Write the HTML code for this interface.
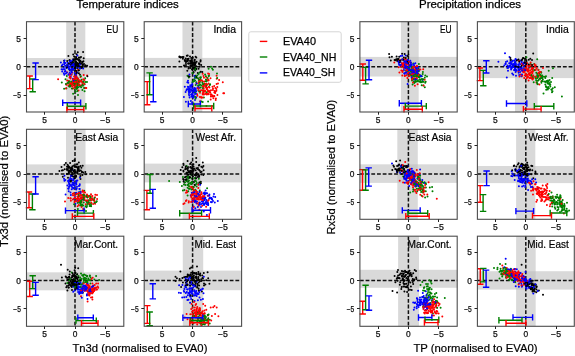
<!DOCTYPE html>
<html><head><meta charset="utf-8"><style>
html,body{margin:0;padding:0;background:#fff;}
body{width:575px;height:356px;overflow:hidden;}
svg{display:block;filter:blur(0.3px);font-family:"Liberation Sans",sans-serif;}
.tl text{font-size:8.4px;fill:#111;stroke:#111;stroke-width:0.25px;}
.pl{font-size:10.4px;fill:#000;stroke:#000;stroke-width:0.2px;}
.t{font-size:10.6px;fill:#000;stroke:#000;stroke-width:0.25px;}
.ax{font-size:11.5px;fill:#000;stroke:#000;stroke-width:0.2px;}
.lg{font-size:11.3px;fill:#000;stroke:#000;stroke-width:0.25px;}
</style></head><body>
<svg width="575" height="356" viewBox="0 0 575 356">
<rect width="575" height="356" fill="#fff"/>
<rect x="66.2" y="21.7" width="19.1" height="90.3" fill="#bebebe" fill-opacity="0.585"/>
<rect x="26.5" y="58" width="97.3" height="17.2" fill="#bebebe" fill-opacity="0.585"/>
<path d="M26.5 66.8H123.8M75 21.7V112" stroke="#111" stroke-width="1.5" stroke-dasharray="3.8 1.9" fill="none"/>
<path d="M77 86.3h0M77.6 80.9h0M77.9 84.2h0M76.8 88.9h0M73.1 93.8h0M78.2 83h0M74.2 84.6h0M75.8 80.1h0M69.2 86.5h0M75.9 84.1h0M77.5 82.4h0M77.8 78.2h0M73.2 79.4h0M68.7 81.4h0" stroke="#008000" stroke-width="2.0" stroke-linecap="round" fill="none"/>
<path d="M70.2 83h0M73 80.9h0M75.2 81.6h0M80.6 85.6h0M80.5 77h0M75.1 77.2h0M78 83h0M74.4 86.6h0M82.2 82.2h0M69 80.9h0M76.5 76.8h0M81.3 85.5h0M72.5 88.6h0M67.2 80.5h0M78.5 90.4h0" stroke="#ff0000" stroke-width="2.0" stroke-linecap="round" fill="none"/>
<path d="M69.2 68.5h0M80.2 68.5h0M71.6 71h0M60.9 62.5h0M64.7 69.2h0M68.6 67.8h0M68.6 74.6h0M69 63.9h0M72.2 64.3h0M62.9 69.5h0M69.7 72.5h0M61.6 69.2h0M72.6 64.7h0M62.8 64.5h0M75.6 64.2h0" stroke="#0000ff" stroke-width="2.0" stroke-linecap="round" fill="none"/>
<path d="M76.2 57h0M70.2 63.1h0M80 64.6h0M69.5 60.2h0M78 58.9h0M73 62.6h0M77.8 52.3h0M76.2 58.3h0M79 63.4h0M64.1 60.7h0M82.6 67.1h0M75.1 71.5h0M81.9 67.9h0M78.7 60.4h0M85.2 65.4h0M80.3 63.5h0" stroke="#000000" stroke-width="2.0" stroke-linecap="round" fill="none"/>
<path d="M75.3 81.1h0M76.8 88.1h0M61.8 82.6h0M73.5 84.5h0M81.6 79.7h0M77.8 79.8h0M84.6 88h0M76.9 83h0M66.8 76h0M81.2 87.3h0M76.3 76.2h0M84.6 91.3h0M84.6 84.3h0M87 82h0" stroke="#008000" stroke-width="2.0" stroke-linecap="round" fill="none"/>
<path d="M83.7 75.1h0M69.9 76.1h0M82.5 84.5h0M73.5 88.2h0M75.9 85.2h0M67 83.7h0M87.1 75.4h0M75.9 71.8h0M76.3 81.3h0M76 75.7h0M74.5 80.7h0M79.7 82h0M78.8 81.8h0M71.3 85.4h0" stroke="#ff0000" stroke-width="2.0" stroke-linecap="round" fill="none"/>
<path d="M65.3 71.1h0M67.6 62.8h0M69 69.3h0M74.7 73h0M69.6 63.8h0M64.1 62.4h0M71.5 63.5h0M83.1 68.6h0M68 67.2h0M67.3 64.7h0M70.3 64.1h0M76 62h0M64.5 60.4h0M63.9 73.2h0" stroke="#0000ff" stroke-width="2.0" stroke-linecap="round" fill="none"/>
<path d="M69.8 70.1h0M75.2 70.6h0M78.1 63.9h0M76.6 54.3h0M77.7 65.4h0M79.7 67.2h0M79.9 57.8h0M72.2 65.8h0M79.4 60.1h0M81.2 67.2h0M77.5 68.6h0M71.2 62.7h0M79.7 62.7h0M77.2 62.9h0M70.9 64.1h0M80.1 60.8h0" stroke="#000000" stroke-width="2.0" stroke-linecap="round" fill="none"/>
<path d="M74.2 80.6h0M68.9 83h0M76.7 85.5h0M77.7 85.3h0M77.5 87.5h0M73.5 84.1h0M75 83.4h0M84.1 87.9h0M75.2 81h0M70.7 84.7h0M70.2 86.6h0M76.6 83.8h0M82.8 85.1h0" stroke="#008000" stroke-width="2.0" stroke-linecap="round" fill="none"/>
<path d="M74.9 78.7h0M83.3 79.3h0M78.1 79h0M69.1 85.3h0M67 72.2h0M75.7 83.3h0M80.9 81.1h0M72.2 72.8h0M76.2 85h0M85.5 87.9h0M82.5 83h0M77.2 80.4h0M74.1 76.6h0M71.8 84h0" stroke="#ff0000" stroke-width="2.0" stroke-linecap="round" fill="none"/>
<path d="M64.3 64h0M70.7 76.8h0M71.5 69.1h0M69.8 61h0M71.1 63.8h0M74.4 68.6h0M65.9 73.5h0M78.4 66.3h0M70.3 66.8h0M74.7 66.9h0M70 69.8h0M65.1 65.8h0M79.7 67.9h0M74.6 64.7h0" stroke="#0000ff" stroke-width="2.0" stroke-linecap="round" fill="none"/>
<path d="M81.5 63.4h0M87.1 65.7h0M73.2 59.3h0M76.9 65.3h0M76.1 62.3h0M78.9 57.5h0M69.7 60.2h0M78.6 65.4h0M66.8 65.6h0M73.1 63.8h0M73.5 63.8h0M74.7 68.1h0M82.5 64.4h0M82.2 62.4h0M79.7 61h0M75.3 59.3h0" stroke="#000000" stroke-width="2.0" stroke-linecap="round" fill="none"/>
<path d="M77.4 90.9h0M65.5 79.3h0M67.7 82.9h0M69.6 85.3h0M75.9 88h0M82.4 90h0M75.5 91.7h0M76.9 87.9h0M78 94.9h0M77.2 80.4h0M64.1 88.7h0M76 80.7h0M72.8 83.6h0" stroke="#008000" stroke-width="2.0" stroke-linecap="round" fill="none"/>
<path d="M66.3 84.7h0M77.6 81.4h0M68.4 85.7h0M78.7 85.3h0M77.4 81.7h0M70.6 78.6h0M75.9 75.1h0M58.1 79.2h0M79 82.4h0M73.5 84.9h0M76 88.2h0M74.9 81.7h0M75.6 85.3h0M84.4 80.1h0" stroke="#ff0000" stroke-width="2.0" stroke-linecap="round" fill="none"/>
<path d="M76.8 65h0M75.2 64.8h0M73 78.8h0M68.7 66.1h0M76 74.8h0M71.6 74.5h0M72.8 60.1h0M71.3 61.2h0M66.4 68h0M77.9 65.6h0M75.2 65h0M64.9 71.4h0M71.7 69.3h0M63.6 67.7h0" stroke="#0000ff" stroke-width="2.0" stroke-linecap="round" fill="none"/>
<path d="M73.2 54.6h0M72.2 63.4h0M75.6 61.6h0M76 62.3h0M81 57.1h0M78.5 70.6h0M84 64h0M82.8 61.8h0M75.9 65.9h0M83.1 52.1h0M80 74.7h0M83.7 58.3h0M83.4 61.2h0M73 69.8h0M68.4 56h0M82.9 65.5h0" stroke="#000000" stroke-width="2.0" stroke-linecap="round" fill="none"/>
<path d="M74 82.3h0M65.9 84h0M71.1 81.4h0M85.2 78.2h0M76.6 87.9h0M69 81.5h0M74.4 83.7h0M74.9 89.6h0M72 82.3h0M78.6 81.2h0M66.4 88.3h0M83.6 82.6h0M73.6 85h0" stroke="#008000" stroke-width="2.0" stroke-linecap="round" fill="none"/>
<path d="M75.9 81.8h0M73.6 79.3h0M81.3 80.9h0M86.3 88h0M74.6 81.7h0M70.5 77.6h0M73.5 84.8h0M83.3 81.7h0M70.3 83.7h0M78.1 70h0M72.9 79.8h0M84.3 83.9h0M73.8 80.5h0M72.7 82.3h0" stroke="#ff0000" stroke-width="2.0" stroke-linecap="round" fill="none"/>
<path d="M75.9 77h0M66.3 67h0M73.4 69.8h0M73.7 80.7h0M75.9 67.2h0M61.9 65.6h0M77.2 72.5h0M68.6 74.4h0M65.4 63.1h0M72.4 68.4h0M70.3 61h0M66.5 65.9h0M71.3 69.7h0M77.4 55.5h0" stroke="#0000ff" stroke-width="2.0" stroke-linecap="round" fill="none"/>
<path d="M74.3 64h0M73.7 60.4h0M77.8 64.7h0M75.2 59.5h0M78.9 66.1h0M82 66.6h0M76.6 73.1h0M75.6 67.9h0M67.2 61.1h0M75.3 67h0M75.6 64.1h0M71.1 65.2h0M71.5 64.6h0M87.4 76.3h0M80.9 61.5h0M72.6 62.1h0" stroke="#000000" stroke-width="2.0" stroke-linecap="round" fill="none"/>
<path d="M80 86.6h0M69.3 86.2h0M83.4 81.4h0M82.2 85.5h0M85.7 82h0M80.9 76.2h0M79.1 84.5h0M77 87.6h0M78.2 87.2h0M82.9 85.8h0M71.9 88.4h0M76.7 81.5h0M74.7 83.7h0" stroke="#008000" stroke-width="2.0" stroke-linecap="round" fill="none"/>
<path d="M71.9 83.5h0M79.5 80.2h0M79 84.9h0M69.7 74.1h0M71.3 74.8h0M77.1 78.1h0M75.5 81.9h0M69.6 77.4h0M72.2 86.3h0M77.4 81.2h0M66 88.4h0M75.7 79h0M74.8 82h0M76 77.1h0" stroke="#ff0000" stroke-width="2.0" stroke-linecap="round" fill="none"/>
<path d="M71.8 72.2h0M71.9 68.5h0M62.2 71.4h0M71.6 65.6h0M73 68.8h0M71.4 71.4h0M77.1 67.6h0M64.3 74.8h0M70.3 73.9h0M66.8 72.4h0M73.7 64.1h0M73.4 65.8h0M79.9 64.4h0M73.1 64.2h0" stroke="#0000ff" stroke-width="2.0" stroke-linecap="round" fill="none"/>
<path d="M76.1 64h0M77 59.5h0M68.8 63.5h0M75.4 61.6h0M77.8 66.6h0M66.9 67.4h0M85.6 65.6h0M78.9 70.2h0M73.8 59.8h0M78.9 73.3h0M76.5 71.1h0M74.1 56.6h0M72 67h0M76.7 65.6h0M75.5 65.4h0" stroke="#000000" stroke-width="2.0" stroke-linecap="round" fill="none"/>
<path d="M29.7 76V88.6M26.5 76H32.9M26.5 88.6H32.9" stroke="#ff0000" stroke-width="1.4" fill="none"/>
<path d="M32.7 79V91.7M29.5 79H35.9M29.5 91.7H35.9" stroke="#008000" stroke-width="1.4" fill="none"/>
<path d="M35.6 63V79.6M32.4 63H38.8M32.4 79.6H38.8" stroke="#0000ff" stroke-width="1.4" fill="none"/>
<path d="M62.7 102.7H80.6M62.7 99.5V105.9M80.6 99.5V105.9" stroke="#0000ff" stroke-width="1.4" fill="none"/>
<path d="M67.3 106.3H85.9M67.3 103.1V109.5M85.9 103.1V109.5" stroke="#008000" stroke-width="1.4" fill="none"/>
<path d="M66.9 109.6H83.8M66.9 106.4V112.8M83.8 106.4V112.8" stroke="#ff0000" stroke-width="1.4" fill="none"/>
<rect x="26.5" y="21.7" width="97.3" height="90.3" fill="none" stroke="#4d4d4d" stroke-width="1.1"/>
<path d="M26.5 95.5h-2.9M105.5 112v2.7M26.5 66.5h-2.9M75.5 112v2.7M26.5 38.5h-2.9M44.5 112v2.7" stroke="#222" stroke-width="1" fill="none"/>
<g class="tl"><text x="20.9" y="41.6" text-anchor="end">5</text><text x="44.6" y="122.7" text-anchor="middle">5</text><text x="20.9" y="69.8" text-anchor="end">0</text><text x="75" y="122.7" text-anchor="middle">0</text><text x="20.9" y="98" text-anchor="end" textLength="7.6" lengthAdjust="spacingAndGlyphs">−5</text><text x="105.3" y="122.7" text-anchor="middle" textLength="10" lengthAdjust="spacingAndGlyphs">−5</text></g>
<text class="pl" x="106.6" y="33.2" textLength="11.6" lengthAdjust="spacingAndGlyphs">EU</text>
<rect x="182.5" y="21.7" width="19.8" height="90.3" fill="#bebebe" fill-opacity="0.585"/>
<rect x="144.2" y="57.9" width="97.4" height="18.8" fill="#bebebe" fill-opacity="0.585"/>
<path d="M144.2 66.8H241.6M192.6 21.7V112" stroke="#111" stroke-width="1.5" stroke-dasharray="3.8 1.9" fill="none"/>
<path d="M195.3 88.6h0M192.2 102.8h0M189.1 91.3h0M192.1 84.8h0M192.9 97.4h0M187.8 86.7h0M194.7 76.6h0M188.3 82.7h0M191.4 96.4h0M194.2 92.6h0M191.3 89.9h0M195 78h0M190.9 101.1h0" stroke="#0000ff" stroke-width="2.0" stroke-linecap="round" fill="none"/>
<path d="M206.4 83.7h0M208.7 76.1h0M195.5 68.1h0M199.7 72.5h0M200.5 78.9h0M202.7 101.9h0M200.1 77.6h0M210.1 84.2h0M200.2 91.6h0M203 88.4h0M203.6 91.5h0M196.3 82.2h0" stroke="#008000" stroke-width="2.0" stroke-linecap="round" fill="none"/>
<path d="M204.7 84.1h0M204 94.6h0M196.5 83.6h0M206.8 79.9h0M205 90.7h0M212.5 86.8h0M201 90.2h0M204.1 83.4h0M211.4 94.4h0M208 80h0M207.5 90.1h0M197.4 95.7h0M215.7 99.9h0M199.5 87.7h0M204 77.8h0M217.3 87h0M210.5 78.2h0M212.8 96.5h0M215.9 98.6h0" stroke="#ff0000" stroke-width="2.0" stroke-linecap="round" fill="none"/>
<path d="M191.3 65.4h0M193.3 72.2h0M195.8 69.1h0M195.6 75.7h0M194 64.4h0M194.2 65.7h0M198.6 68.7h0M195.3 62.4h0M199 63.3h0M200.5 61.6h0" stroke="#000000" stroke-width="2.0" stroke-linecap="round" fill="none"/>
<path d="M180.6 57.6h0M188 59.9h0M184.9 59.9h0M190.1 63.8h0M191.8 61.8h0M187 61.3h0M182.9 58.8h0" stroke="#000000" stroke-width="2.0" stroke-linecap="round" fill="none"/>
<path d="M188.6 89.4h0M191.1 94.4h0M189.9 89.7h0M196.1 97.3h0M189.1 92.2h0M188.6 90.9h0M188.9 93.9h0M194.4 88h0M189.6 88.9h0M190.2 91.9h0M197.5 87.6h0M194.7 76h0M194.7 90.3h0" stroke="#0000ff" stroke-width="2.0" stroke-linecap="round" fill="none"/>
<path d="M212.9 69.8h0M194.3 81.1h0M205.9 79.5h0M211 66.8h0M201.4 85.6h0M206.1 85.6h0M199.2 91.4h0M195.1 80.5h0M205.1 74.4h0M196.1 76.4h0M197 78.1h0M187.5 75.8h0" stroke="#008000" stroke-width="2.0" stroke-linecap="round" fill="none"/>
<path d="M206.6 89h0M214.1 95.9h0M206.9 94.4h0M201.8 80.2h0M210.9 96.2h0M201.4 97.7h0M214.2 86.1h0M208.1 93.7h0M214.7 91h0M199.9 80.3h0M203.8 88.8h0M203.4 92.8h0M207.2 87.7h0M208.7 94.3h0M198.8 79.1h0M200 81h0M205.1 91.5h0M212.9 89.9h0M216.4 88.9h0" stroke="#ff0000" stroke-width="2.0" stroke-linecap="round" fill="none"/>
<path d="M196.3 57.6h0M196.4 69h0M191.2 58h0M195.6 56.7h0M195.7 63h0M193.4 64.6h0M190.5 65.6h0M192.4 69.6h0M192.1 63.1h0M195 69.3h0" stroke="#000000" stroke-width="2.0" stroke-linecap="round" fill="none"/>
<path d="M185.6 60.9h0M190.1 60.7h0M183.5 57h0M187.5 59.1h0M184 65.6h0M192.6 64.4h0M188.4 63.4h0" stroke="#000000" stroke-width="2.0" stroke-linecap="round" fill="none"/>
<path d="M192.3 83.1h0M186.4 90.2h0M198.5 86.1h0M193.6 97.4h0M190.3 85.2h0M189.6 97.4h0M191.7 94.4h0M194.5 92h0M192.6 96.5h0M184.8 86.7h0M198.8 88h0M195 100h0M192.3 93.4h0" stroke="#0000ff" stroke-width="2.0" stroke-linecap="round" fill="none"/>
<path d="M198.4 90.3h0M207.7 78.1h0M203.9 97.4h0M192.6 82.1h0M194 79.4h0M199 80.1h0M203.1 87.6h0M195.7 85.1h0M195 96.7h0M200.9 77.2h0M188.8 77.4h0M212.1 68.4h0" stroke="#008000" stroke-width="2.0" stroke-linecap="round" fill="none"/>
<path d="M206.5 77.6h0M215.4 88.1h0M213 88.5h0M199.8 96.9h0M214.3 96.2h0M211 90.3h0M200.1 101.3h0M203.2 91h0M203.4 85.7h0M216.6 83.9h0M216.7 78.7h0M208.1 73.4h0M197.2 94.3h0M209.5 91.3h0M208.1 91.5h0M209 90.8h0M203.5 76.1h0M200 92.8h0" stroke="#ff0000" stroke-width="2.0" stroke-linecap="round" fill="none"/>
<path d="M184.6 65.8h0M189.5 76.5h0M194.5 62.2h0M194.8 59.8h0M192.7 57.8h0M193.9 63.8h0M193.8 67.4h0M200.8 71.8h0M188.6 68.5h0M193.9 67.8h0" stroke="#000000" stroke-width="2.0" stroke-linecap="round" fill="none"/>
<path d="M179.4 61.4h0M185.9 62.9h0M186.8 55.8h0M190.4 61.2h0M190.9 61.6h0M191.7 60.5h0M184.8 60.7h0" stroke="#000000" stroke-width="2.0" stroke-linecap="round" fill="none"/>
<path d="M195 93.9h0M188 80.8h0M189.2 95.4h0M187.3 82.2h0M193.3 89.3h0M194.2 104.5h0M189.3 92.5h0M196.7 83.5h0M192 87.9h0M185.6 91.9h0M193.9 92h0M196 93.8h0" stroke="#0000ff" stroke-width="2.0" stroke-linecap="round" fill="none"/>
<path d="M198 78.3h0M195.6 90.3h0M208.9 75.8h0M198.9 85.2h0M206.2 86.5h0M199 80.1h0M203 84.4h0M195.4 92.2h0M202.8 84h0M200.1 84.7h0M204.3 84.3h0M198.1 85.6h0" stroke="#008000" stroke-width="2.0" stroke-linecap="round" fill="none"/>
<path d="M206.1 83.8h0M205.9 94h0M205.9 84h0M208.4 79.8h0M215.2 93h0M212.6 95.4h0M204.3 81.5h0M206.4 106.1h0M210.1 92.5h0M214.5 92.5h0M208.6 83.5h0M202.4 90.3h0M223.3 93.3h0M202.4 81.2h0M219.1 79.9h0M198.7 83h0M205.3 93.6h0M202.7 73.7h0" stroke="#ff0000" stroke-width="2.0" stroke-linecap="round" fill="none"/>
<path d="M195.2 70.6h0M192 69.2h0M194.7 62.8h0M201.2 65.1h0M188.5 76.2h0M194.4 60.5h0M197.8 73.1h0M195.7 69.5h0M199.3 64.1h0M194.4 69.1h0" stroke="#000000" stroke-width="2.0" stroke-linecap="round" fill="none"/>
<path d="M188.6 58.8h0M199.5 64.4h0M180.9 57.2h0M182.5 57h0M186.3 61.5h0M188.9 67h0M185.6 60.7h0" stroke="#000000" stroke-width="2.0" stroke-linecap="round" fill="none"/>
<path d="M195 90.7h0M186.9 89.2h0M191.3 90.5h0M195.8 88.9h0M191.3 86.3h0M192.5 94.8h0M188.1 89h0M189.9 89.3h0M194.5 90h0M193.7 95.8h0M192.2 84.8h0M192.6 91.5h0" stroke="#0000ff" stroke-width="2.0" stroke-linecap="round" fill="none"/>
<path d="M198.6 74.1h0M206.7 81.3h0M206.7 92.3h0M202.4 82.5h0M195.6 98.6h0M205.8 81.2h0M199.6 81.8h0M194.9 67.8h0M208.1 101.5h0M217.2 77.9h0M193.2 81.3h0" stroke="#008000" stroke-width="2.0" stroke-linecap="round" fill="none"/>
<path d="M203.7 90.4h0M198.7 90.3h0M209.4 87.5h0M211 96.6h0M197.7 88.2h0M209.1 74.1h0M208.4 91.6h0M202.7 97.4h0M215.5 91.5h0M217.4 95.1h0M208.1 94.1h0M216.4 90.7h0M214.6 92.3h0M207.4 84.7h0M202.9 94.5h0M210.2 92.5h0M216.6 75.7h0M224.1 93.3h0" stroke="#ff0000" stroke-width="2.0" stroke-linecap="round" fill="none"/>
<path d="M187.3 70.8h0M190 56.5h0M187.7 55.5h0M199.7 66.7h0M192.6 72.9h0M196.2 77.1h0M195.9 66.1h0M191.5 63.1h0M196.6 61.7h0M193.5 72.3h0" stroke="#000000" stroke-width="2.0" stroke-linecap="round" fill="none"/>
<path d="M179.6 56.9h0M185.7 58.4h0M187.8 60.9h0M193.3 64.5h0M192.9 62.6h0M190.2 63.1h0" stroke="#000000" stroke-width="2.0" stroke-linecap="round" fill="none"/>
<path d="M183.9 97h0M193.7 90.7h0M193 96.3h0M188.4 87.1h0M193.4 89.7h0M185.9 101.7h0M189.4 74.6h0M192 96.3h0M192.8 96.3h0M190.1 87h0M196.2 91.3h0M189.6 89.1h0" stroke="#0000ff" stroke-width="2.0" stroke-linecap="round" fill="none"/>
<path d="M201.4 101.4h0M192.5 72.9h0M195.2 77.2h0M208.6 68.7h0M217 73.5h0M197.3 75.4h0M205.9 76.2h0M195.3 69.6h0M209.8 85h0M199.6 82.8h0M200.7 87.6h0" stroke="#008000" stroke-width="2.0" stroke-linecap="round" fill="none"/>
<path d="M210.9 94.4h0M203.8 86.8h0M210.7 99.6h0M204.8 84.9h0M208.9 86.7h0M202.9 86.2h0M202.7 93.8h0M206.7 88.2h0M213.4 98.2h0M206.4 87.8h0M206.7 93.7h0M208.6 80.5h0M201 97.1h0M199.1 81.3h0M205.7 87h0M203.1 92.8h0M222.8 82.2h0M218 83.5h0" stroke="#ff0000" stroke-width="2.0" stroke-linecap="round" fill="none"/>
<path d="M195.1 64.6h0M192.3 65.3h0M190.2 67.9h0M194.6 67.4h0M188.3 63.6h0M191.9 65.2h0M202.3 72h0M200.6 60.2h0M191.4 60.3h0M192.9 68.2h0" stroke="#000000" stroke-width="2.0" stroke-linecap="round" fill="none"/>
<path d="M187.3 59.4h0M191.6 60.4h0M179.5 56.4h0M192.6 62.5h0M179.4 56.8h0M186 64.9h0" stroke="#000000" stroke-width="2.0" stroke-linecap="round" fill="none"/>
<path d="M147.2 81.6V104.7M144 81.6H150.4M144 104.7H150.4" stroke="#ff0000" stroke-width="1.4" fill="none"/>
<path d="M149.6 72.9V94.8M146.4 72.9H152.8M146.4 94.8H152.8" stroke="#008000" stroke-width="1.4" fill="none"/>
<path d="M153.3 75.3V101.8M150.1 75.3H156.5M150.1 101.8H156.5" stroke="#0000ff" stroke-width="1.4" fill="none"/>
<path d="M188.3 104H200.3M188.3 100.8V107.2M200.3 100.8V107.2" stroke="#0000ff" stroke-width="1.4" fill="none"/>
<path d="M193.7 106H213.7M193.7 102.8V109.2M213.7 102.8V109.2" stroke="#008000" stroke-width="1.4" fill="none"/>
<path d="M195 108.5H211.8M195 105.3V111.7M211.8 105.3V111.7" stroke="#ff0000" stroke-width="1.4" fill="none"/>
<rect x="144.2" y="21.7" width="97.4" height="90.3" fill="none" stroke="#4d4d4d" stroke-width="1.1"/>
<path d="M144.2 95.5h-2.9M222.5 112v2.7M144.2 66.5h-2.9M192.5 112v2.7M144.2 38.5h-2.9M162.5 112v2.7" stroke="#222" stroke-width="1" fill="none"/>
<g class="tl"><text x="138.6" y="41.6" text-anchor="end">5</text><text x="162.2" y="122.7" text-anchor="middle">5</text><text x="138.6" y="69.8" text-anchor="end">0</text><text x="192.6" y="122.7" text-anchor="middle">0</text><text x="138.6" y="98" text-anchor="end" textLength="7.6" lengthAdjust="spacingAndGlyphs">−5</text><text x="222.9" y="122.7" text-anchor="middle" textLength="10" lengthAdjust="spacingAndGlyphs">−5</text></g>
<text class="pl" x="213.4" y="33.2" textLength="22.6" lengthAdjust="spacingAndGlyphs">India</text>
<rect x="66" y="129.3" width="19.5" height="90" fill="#bebebe" fill-opacity="0.585"/>
<rect x="26.5" y="164.4" width="97.3" height="19" fill="#bebebe" fill-opacity="0.585"/>
<path d="M26.5 174H123.8M75 129.3V219.3" stroke="#111" stroke-width="1.5" stroke-dasharray="3.8 1.9" fill="none"/>
<path d="M70.2 178h0M71.9 180.3h0M64.9 180.3h0M77.4 180.5h0M75 197h0M72.1 184.4h0M65.3 180h0M69.6 180.5h0M69.4 184.1h0M84.4 199.9h0M72.1 184.8h0M65.6 194.5h0M74.8 185.5h0" stroke="#0000ff" stroke-width="2.0" stroke-linecap="round" fill="none"/>
<path d="M89.6 206.1h0M94.4 203.1h0M87 201.5h0M80.2 191.5h0M79.6 196.3h0M81.8 205.9h0M91.1 206.3h0M87 195.6h0M93.2 199.7h0M86.7 202h0M82 199.6h0M80.4 200.9h0" stroke="#008000" stroke-width="2.0" stroke-linecap="round" fill="none"/>
<path d="M92.6 199.5h0M80.9 197.4h0M81.6 206.9h0M95 197.2h0M79.2 195.6h0M82.7 197.9h0M93.1 204h0M81.5 200.9h0M95.1 203.8h0M73 195.2h0M70.4 198.2h0M94.2 199.6h0M84.5 196h0M84.8 196.4h0M80.2 193.2h0" stroke="#ff0000" stroke-width="2.0" stroke-linecap="round" fill="none"/>
<path d="M77.8 170.5h0M75.8 166.8h0M71.3 174.5h0M77.7 171.1h0M72.4 168.9h0M71.1 176.1h0M75.7 166.8h0M78.9 167.1h0M70.9 170.2h0M72.7 161.1h0M71.9 168.3h0M66.9 169.1h0M68.5 170.9h0M75.9 175.8h0M72.4 174.6h0M77.7 167.9h0M72.5 166.3h0" stroke="#000000" stroke-width="2.0" stroke-linecap="round" fill="none"/>
<path d="M72.3 169.8h0M79.5 189.1h0M78 200.3h0M76.3 180.7h0M67.4 185.6h0M71 175.6h0M68.7 180.6h0M69.4 186.4h0M72.5 182.8h0M70.9 195.1h0M78.9 186.1h0M64.5 175.7h0M80.4 193.6h0" stroke="#0000ff" stroke-width="2.0" stroke-linecap="round" fill="none"/>
<path d="M81.2 200.3h0M79.5 202.6h0M91.2 204.1h0M90.6 197.8h0M88.9 200.7h0M81.7 199.4h0M82.7 198.2h0M88.4 200.2h0M80.1 205.5h0M90.4 198.7h0M96.2 201.9h0M84.2 190.8h0" stroke="#008000" stroke-width="2.0" stroke-linecap="round" fill="none"/>
<path d="M89.3 203.9h0M84.4 195.1h0M84.3 198.2h0M81.6 202.1h0M85.8 204.3h0M84.6 197.6h0M76.7 194h0M87.8 197.2h0M78.1 198.2h0M79.4 199.8h0M87.1 197h0M90.9 196.2h0M65 201.6h0M78.8 204.9h0M79.5 200.5h0" stroke="#ff0000" stroke-width="2.0" stroke-linecap="round" fill="none"/>
<path d="M59.4 171h0M73.6 176.8h0M77.6 170.3h0M86 174.2h0M64.7 169.3h0M71.8 169.6h0M74.7 172.9h0M72.8 176.3h0M77.6 171.9h0M78.8 169.2h0M69.4 170.7h0M72.2 168.6h0M77.2 173.6h0M75.9 175.9h0M66.8 174h0M78.8 162.5h0M80.5 179h0" stroke="#000000" stroke-width="2.0" stroke-linecap="round" fill="none"/>
<path d="M76.4 184.6h0M76.4 181.9h0M68.8 182.3h0M75.7 183.2h0M64 178.7h0M73.6 188.6h0M76.2 183.6h0M77.7 202.6h0M64.4 180.7h0M71.7 189.2h0M74.9 199.4h0M74.4 187.6h0M79.6 189h0" stroke="#0000ff" stroke-width="2.0" stroke-linecap="round" fill="none"/>
<path d="M78.6 194.8h0M92.3 198.8h0M77.8 202.8h0M84 194.8h0M77.9 209.1h0M94.9 202.4h0M86.4 201.1h0M82.3 195h0M87 205.9h0M94.1 200.5h0M90.1 196.6h0M88.5 203.4h0" stroke="#008000" stroke-width="2.0" stroke-linecap="round" fill="none"/>
<path d="M78.3 201.6h0M78.4 198.3h0M84.2 199.7h0M91 194.2h0M68.2 198.1h0M70.9 200.8h0M77.4 196.6h0M82.3 195.3h0M72.8 199.5h0M80.8 195.1h0M83.7 194.2h0M80.6 198.5h0M83.1 196.7h0M88.1 201.6h0M92.4 195.9h0" stroke="#ff0000" stroke-width="2.0" stroke-linecap="round" fill="none"/>
<path d="M68 168.9h0M79.3 171h0M70.2 171.1h0M72 174.5h0M73.8 171.5h0M75.3 176h0M69.9 171.6h0M71.2 171.9h0M85.3 172h0M71.6 169.8h0M80.5 166.1h0M74.5 161.1h0M68.5 167.3h0M74.7 176.7h0M75.9 172.3h0M77.8 169.9h0M70.1 163h0" stroke="#000000" stroke-width="2.0" stroke-linecap="round" fill="none"/>
<path d="M72.9 184.4h0M68.1 188.6h0M69.5 184.7h0M71.8 186.8h0M80 177.4h0M76.1 192.8h0M73.7 182.7h0M73.5 185h0M68.7 191.2h0M78.7 192.2h0M76.2 189.4h0M80.8 192.1h0" stroke="#0000ff" stroke-width="2.0" stroke-linecap="round" fill="none"/>
<path d="M90.4 198h0M81.7 205.5h0M89.9 203h0M78.9 195.9h0M81.2 202.1h0M86 210.9h0M80.7 203.5h0M79.6 202.6h0M85.6 206.3h0M90.4 200.6h0M87.2 204h0M83.3 195.1h0" stroke="#008000" stroke-width="2.0" stroke-linecap="round" fill="none"/>
<path d="M80.3 198.3h0M78 198h0M92.1 198.4h0M79.5 193.1h0M79 200.4h0M84.1 197.9h0M70.7 198.6h0M94.5 201h0M83.1 208.9h0M87.6 196.4h0M91.4 202.7h0M85 192.6h0M97.1 199h0M85.8 200.4h0M82 197.1h0" stroke="#ff0000" stroke-width="2.0" stroke-linecap="round" fill="none"/>
<path d="M82.7 165.7h0M74.3 170.5h0M64.5 164.8h0M76.3 166.9h0M67.6 174h0M61.5 167.1h0M83.2 172.5h0M68.2 167.1h0M82 172.3h0M72.7 172.9h0M82.4 174.9h0M76.7 164.4h0M68.9 173.1h0M80.8 170.5h0M61.9 170.5h0M78.4 166.7h0M80.4 176.1h0" stroke="#000000" stroke-width="2.0" stroke-linecap="round" fill="none"/>
<path d="M74.2 199h0M70.2 181.3h0M72.9 187.7h0M71.6 175.8h0M75.4 203.7h0M81.8 198.5h0M69.2 183.7h0M73.5 179h0M70.5 192.5h0M77 186.7h0M71 185.8h0M68.7 188.7h0" stroke="#0000ff" stroke-width="2.0" stroke-linecap="round" fill="none"/>
<path d="M96.8 201.3h0M86.2 196.1h0M90.6 198.6h0M83.7 202.6h0M86.5 207.2h0M87.3 197.4h0M75.4 199.1h0M80.7 201.3h0M89.7 204.2h0M84.3 209.9h0M94.4 197.9h0" stroke="#008000" stroke-width="2.0" stroke-linecap="round" fill="none"/>
<path d="M81.4 198.5h0M77.6 206.2h0M97 195.1h0M83 198.1h0M75.2 197.9h0M89 203.2h0M72.8 193.8h0M74.1 198.5h0M82.7 190.4h0M78.4 193.2h0M83.7 191.7h0M88.7 203.6h0M76.6 198.9h0M92.4 198.4h0M76.7 193.9h0" stroke="#ff0000" stroke-width="2.0" stroke-linecap="round" fill="none"/>
<path d="M68 177.8h0M70.7 180.2h0M78.5 168.7h0M74.4 170.2h0M67.1 169.9h0M68.3 165.9h0M70.4 170.7h0M71.1 181.1h0M77.3 164.3h0M67 166.7h0M71.5 174.6h0M70.4 169.1h0M62.8 176.7h0M81.9 171.8h0M77.6 167.5h0M70.6 181.4h0" stroke="#000000" stroke-width="2.0" stroke-linecap="round" fill="none"/>
<path d="M69 187h0M74.2 178.4h0M76.5 188.3h0M68 181h0M69.6 179.6h0M79.8 184.2h0M76.7 188.5h0M71.5 178.9h0M70 185.1h0M73.1 180.4h0M79.7 185.5h0M73.8 183.7h0" stroke="#0000ff" stroke-width="2.0" stroke-linecap="round" fill="none"/>
<path d="M82.3 204.5h0M83.6 197.7h0M80.8 205.1h0M74.1 204.3h0M83.2 205.4h0M89.1 195.8h0M83.5 199.8h0M90.8 205.5h0M88 202.7h0M84 195.4h0M88.5 202.3h0" stroke="#008000" stroke-width="2.0" stroke-linecap="round" fill="none"/>
<path d="M90 199h0M91.5 200.2h0M87 194.6h0M79.5 195.9h0M74.6 201.2h0M74.2 195.5h0M88.6 195.9h0M87.1 200.3h0M77.2 198.9h0M76.4 201h0M74.5 202.3h0M73.8 193.3h0M74.6 195.6h0M95.3 194.8h0M82.4 191.8h0" stroke="#ff0000" stroke-width="2.0" stroke-linecap="round" fill="none"/>
<path d="M74.7 178.3h0M74 165.6h0M76.1 176.8h0M62.9 170.2h0M81.4 167.7h0M69.2 167h0M68.8 172.3h0M71.8 168.6h0M73.3 170.7h0M75.6 171.7h0M65.9 163h0M67.6 164.7h0M71.3 167.4h0M74.5 166.7h0M74.5 160h0M69.4 167.7h0" stroke="#000000" stroke-width="2.0" stroke-linecap="round" fill="none"/>
<path d="M29 192V207.7M25.8 192H32.2M25.8 207.7H32.2" stroke="#ff0000" stroke-width="1.4" fill="none"/>
<path d="M32.4 194V209.8M29.2 194H35.6M29.2 209.8H35.6" stroke="#008000" stroke-width="1.4" fill="none"/>
<path d="M35.6 176.8V194M32.4 176.8H38.8M32.4 194H38.8" stroke="#0000ff" stroke-width="1.4" fill="none"/>
<path d="M65.5 210.6H84.1M65.5 207.4V213.8M84.1 207.4V213.8" stroke="#0000ff" stroke-width="1.4" fill="none"/>
<path d="M77.5 213.1H93.4M77.5 209.9V216.3M93.4 209.9V216.3" stroke="#008000" stroke-width="1.4" fill="none"/>
<path d="M72.3 216.4H93.8M72.3 213.2V219.6M93.8 213.2V219.6" stroke="#ff0000" stroke-width="1.4" fill="none"/>
<rect x="26.5" y="129.3" width="97.3" height="90" fill="none" stroke="#4d4d4d" stroke-width="1.1"/>
<path d="M26.5 202.5h-2.9M105.5 219.3v2.7M26.5 174.5h-2.9M75.5 219.3v2.7M26.5 145.5h-2.9M44.5 219.3v2.7" stroke="#222" stroke-width="1" fill="none"/>
<g class="tl"><text x="20.9" y="148.8" text-anchor="end">5</text><text x="44.6" y="230" text-anchor="middle">5</text><text x="20.9" y="177" text-anchor="end">0</text><text x="75" y="230" text-anchor="middle">0</text><text x="20.9" y="205.2" text-anchor="end" textLength="7.6" lengthAdjust="spacingAndGlyphs">−5</text><text x="105.3" y="230" text-anchor="middle" textLength="10" lengthAdjust="spacingAndGlyphs">−5</text></g>
<text class="pl" x="75.2" y="140.8" textLength="43" lengthAdjust="spacingAndGlyphs">East Asia</text>
<rect x="182.6" y="129.3" width="18" height="90" fill="#bebebe" fill-opacity="0.585"/>
<rect x="144.2" y="163.6" width="97.4" height="18.8" fill="#bebebe" fill-opacity="0.585"/>
<path d="M144.2 174H241.6M192.6 129.3V219.3" stroke="#111" stroke-width="1.5" stroke-dasharray="3.8 1.9" fill="none"/>
<path d="M191.7 178.6h0M189 180.7h0M194.7 184.9h0M185.4 185h0M188.9 183.3h0M195 185.2h0M192.4 186.7h0M195.4 189.7h0M191.3 187.3h0M190.5 183.1h0" stroke="#008000" stroke-width="2.0" stroke-linecap="round" fill="none"/>
<path d="M199.1 195.5h0M201.5 192.3h0M193.4 199h0M199.3 209.8h0M197 194.7h0M202.6 196.9h0M185.9 200.9h0M192.4 193.4h0M196.2 194.6h0M199.1 202.5h0M194.8 193.1h0M193.5 186.9h0M192.4 201h0M196.4 203.1h0M196.7 193.7h0" stroke="#ff0000" stroke-width="2.0" stroke-linecap="round" fill="none"/>
<path d="M197.4 197.3h0M203.5 193.6h0M207.7 195.8h0M195.3 208.3h0M208.1 205h0M202.2 197.5h0M214.8 202.6h0M209.4 194.4h0M204.3 204.7h0M192.2 202h0M195.6 196.9h0M199.9 202.8h0M199 204.2h0M205.7 193.6h0M211.8 202.3h0" stroke="#0000ff" stroke-width="2.0" stroke-linecap="round" fill="none"/>
<path d="M192.7 172.1h0M202.5 167.4h0M191.2 171.3h0M192.2 167.5h0M198 169.2h0M198.5 184.3h0M199 175.5h0M201.2 174.4h0M187.8 174.4h0M183.4 170.7h0M192.4 168.9h0M194.8 184.7h0M194 169.1h0M183.5 171.4h0M203.4 166h0M200.6 172.3h0M182.3 167.3h0" stroke="#000000" stroke-width="2.0" stroke-linecap="round" fill="none"/>
<path d="M184 184.5h0M187.6 187.7h0M182.9 190.6h0M191.1 184.2h0M186.7 181.1h0M185.9 180.1h0M189 177h0M207.1 188.3h0M198.8 178.7h0" stroke="#008000" stroke-width="2.0" stroke-linecap="round" fill="none"/>
<path d="M201.2 198.7h0M200.1 199.6h0M191.5 197.4h0M194.2 199.2h0M195.7 190.8h0M197.6 198.4h0M201.2 198h0M191.4 197h0M201.6 197.2h0M201.7 199.4h0M208.7 200h0M198.6 205.8h0M192.9 188.6h0M193.1 199.9h0M200.3 196.9h0" stroke="#ff0000" stroke-width="2.0" stroke-linecap="round" fill="none"/>
<path d="M201 207.1h0M209.9 197.5h0M199.9 204.7h0M192.8 200.6h0M204.2 196.5h0M204.4 192.5h0M196.7 203.5h0M193.6 206.6h0M205.1 203.2h0M194.8 195.4h0M195.4 196.2h0M193.3 210.8h0M195.7 200.9h0M193.9 200.3h0M199.4 194.4h0" stroke="#0000ff" stroke-width="2.0" stroke-linecap="round" fill="none"/>
<path d="M188 167h0M190.2 177.2h0M203.6 170.3h0M199.3 165.1h0M193.4 164.2h0M188.9 172.4h0M186.3 168.5h0M197.2 174.8h0M183.1 179.1h0M186.6 172.8h0M192.6 178.9h0M186 176.7h0M192.9 176.3h0M187.1 169.1h0M185.6 168h0M195.9 175.7h0M200.8 181.7h0" stroke="#000000" stroke-width="2.0" stroke-linecap="round" fill="none"/>
<path d="M188.1 178.7h0M193.9 190.4h0M196 181.2h0M186.6 165.9h0M184.4 189.9h0M200 182.6h0M181.9 186h0M186.4 179.7h0M187.2 177.1h0" stroke="#008000" stroke-width="2.0" stroke-linecap="round" fill="none"/>
<path d="M194.2 196.9h0M186 192.8h0M199.5 197.7h0M198.3 184.8h0M194.6 201.3h0M197.8 198.5h0M206.1 206.8h0M187.2 192.3h0M196.1 197.6h0M201.3 198.1h0M186.5 200.2h0M184.5 203.3h0M208.3 195.8h0M199.6 192.1h0M191.1 202.1h0" stroke="#ff0000" stroke-width="2.0" stroke-linecap="round" fill="none"/>
<path d="M211.1 198.2h0M200.2 184.7h0M204.4 192.9h0M205.7 202.7h0M204.5 200h0M201.7 201.6h0M196.9 192.1h0M210.9 202h0M194.9 202h0M205.3 198h0M200.7 194.5h0M209.2 198.4h0M199 195.3h0M206.1 193.2h0M191.8 192.8h0" stroke="#0000ff" stroke-width="2.0" stroke-linecap="round" fill="none"/>
<path d="M183.6 181.3h0M194 181.9h0M191.9 174.9h0M199.1 176.7h0M196.6 172.8h0M190.5 173.7h0M189.2 171.7h0M202.8 162.6h0M193.6 170.8h0M203.3 175.1h0M187.9 170.3h0M193.5 166.5h0M192.9 174.1h0M197.9 168h0M199.3 182.4h0M201.4 166.8h0M195.9 177.9h0" stroke="#000000" stroke-width="2.0" stroke-linecap="round" fill="none"/>
<path d="M192.3 182.7h0M179.8 182.1h0M195 180.4h0M190.6 174.6h0M189.9 188.7h0M188.2 191.3h0M192.4 182.8h0M169.1 181.1h0M199.8 190.4h0" stroke="#008000" stroke-width="2.0" stroke-linecap="round" fill="none"/>
<path d="M193.3 201.5h0M192.9 193.4h0M193.2 192.1h0M196.7 194h0M207.9 201h0M191.3 187.1h0M188.7 202.6h0M199.5 197.1h0M200.3 195.2h0M203.6 197.4h0M193.6 207h0M192.6 209.1h0M192.3 199.2h0M197.4 192.8h0M200.4 194.6h0" stroke="#ff0000" stroke-width="2.0" stroke-linecap="round" fill="none"/>
<path d="M211.7 199.3h0M208.1 203.6h0M204.2 198.6h0M194.6 197.9h0M207.1 193.3h0M203.7 204.8h0M217.8 201.1h0M203.4 200.3h0M215.2 196.9h0M206.9 215.1h0M193.4 192.8h0M195 201.4h0M204.8 194.6h0M209.2 195.6h0M205.3 197.8h0" stroke="#0000ff" stroke-width="2.0" stroke-linecap="round" fill="none"/>
<path d="M183.9 179.7h0M188.6 174.7h0M201.6 171.7h0M191.4 168.2h0M189.5 177.7h0M195.9 178.4h0M198.9 165.6h0M199.8 170.7h0M187.7 168.1h0M190.1 164h0M187.1 176.3h0M190.3 170.8h0M196.2 161.9h0M191.2 162.6h0M194 168.4h0M199.1 170.1h0M188.9 171.6h0" stroke="#000000" stroke-width="2.0" stroke-linecap="round" fill="none"/>
<path d="M196.2 184h0M187.5 184.9h0M196.8 182.9h0M191.5 189.6h0M188.5 184.4h0M196.6 186.6h0M182.9 176.9h0M188.9 188.8h0M194.6 178.1h0" stroke="#008000" stroke-width="2.0" stroke-linecap="round" fill="none"/>
<path d="M194.4 199h0M188.8 201.2h0M197 199.2h0M204.4 196.2h0M197.6 203.4h0M191.9 187.5h0M198.7 199.6h0M198.3 188.1h0M202.8 199.8h0M183.4 204.1h0M189.6 186.4h0M198.6 196.6h0M186.6 190.8h0M202.4 199.8h0M203 196h0" stroke="#ff0000" stroke-width="2.0" stroke-linecap="round" fill="none"/>
<path d="M204.3 203.9h0M206.8 204.3h0M197 201.6h0M202.9 203.5h0M202.7 198.7h0M194.7 192h0M206.3 202.3h0M197.8 207.1h0M201.2 203.9h0M206.7 203.1h0M204.7 199.8h0M190.7 195.6h0M213.5 196.6h0M202.8 201.4h0M195.2 196.9h0" stroke="#0000ff" stroke-width="2.0" stroke-linecap="round" fill="none"/>
<path d="M195.6 170.2h0M184.4 182.4h0M198.3 174.6h0M190.6 174.3h0M196.2 158.1h0M186 179.8h0M194.8 175h0M190.3 167.2h0M185.2 169.3h0M183.4 163.7h0M185.8 166.4h0M187.8 181.6h0M200.9 183.3h0M191 172.4h0M189.4 177.3h0M187.4 172.5h0" stroke="#000000" stroke-width="2.0" stroke-linecap="round" fill="none"/>
<path d="M188.2 184.6h0M187.3 181.5h0M185.1 182.2h0M191.7 182.1h0M189 186.3h0M187.6 195.6h0M188 176.8h0M193.7 186.9h0M191 182.8h0" stroke="#008000" stroke-width="2.0" stroke-linecap="round" fill="none"/>
<path d="M193.6 190.1h0M194.6 199.4h0M194.4 193.7h0M191.3 196.4h0M202.2 205.7h0M196.4 197.5h0M201.7 193.9h0M191.3 194.8h0M196.9 197.7h0M196.7 191.7h0M196.4 195.8h0M202.7 200.1h0M193 194.9h0M196.1 190.9h0M194.1 198.1h0" stroke="#ff0000" stroke-width="2.0" stroke-linecap="round" fill="none"/>
<path d="M203.8 211.5h0M212.2 199.3h0M199.6 191.7h0M198.1 193.7h0M195.3 200.6h0M203.4 201.8h0M213 200.9h0M206 202h0M207.8 202.6h0M196.6 196.3h0M208.2 204.7h0M206.5 199.9h0M214 194.1h0M205.6 190.6h0M211.5 197.9h0" stroke="#0000ff" stroke-width="2.0" stroke-linecap="round" fill="none"/>
<path d="M185 177.2h0M187.6 161.1h0M190.2 172.4h0M196.5 173.4h0M192.2 164.8h0M186.4 173.4h0M195.4 174.3h0M180.7 170.1h0M192 171.1h0M196.4 168.2h0M183.6 165h0M180.5 173.9h0M197.9 177h0M187.7 168.4h0M186.5 179.2h0M190.7 167.1h0" stroke="#000000" stroke-width="2.0" stroke-linecap="round" fill="none"/>
<path d="M146.9 190.4V209.7M143.7 190.4H150.1M143.7 209.7H150.1" stroke="#ff0000" stroke-width="1.4" fill="none"/>
<path d="M150 174.5V193.2M146.8 174.5H153.2M146.8 193.2H153.2" stroke="#008000" stroke-width="1.4" fill="none"/>
<path d="M152.8 189.4V208.2M149.6 189.4H156M149.6 208.2H156" stroke="#0000ff" stroke-width="1.4" fill="none"/>
<path d="M192.1 210.2H210.5M192.1 207V213.4M210.5 207V213.4" stroke="#0000ff" stroke-width="1.4" fill="none"/>
<path d="M179.7 213.2H201.6M179.7 210V216.4M201.6 210V216.4" stroke="#008000" stroke-width="1.4" fill="none"/>
<path d="M189.4 216.4H209.3M189.4 213.2V219.6M209.3 213.2V219.6" stroke="#ff0000" stroke-width="1.4" fill="none"/>
<rect x="144.2" y="129.3" width="97.4" height="90" fill="none" stroke="#4d4d4d" stroke-width="1.1"/>
<path d="M144.2 202.5h-2.9M222.5 219.3v2.7M144.2 174.5h-2.9M192.5 219.3v2.7M144.2 145.5h-2.9M162.5 219.3v2.7" stroke="#222" stroke-width="1" fill="none"/>
<g class="tl"><text x="138.6" y="148.8" text-anchor="end">5</text><text x="162.2" y="230" text-anchor="middle">5</text><text x="138.6" y="177" text-anchor="end">0</text><text x="192.6" y="230" text-anchor="middle">0</text><text x="138.6" y="205.2" text-anchor="end" textLength="7.6" lengthAdjust="spacingAndGlyphs">−5</text><text x="222.9" y="230" text-anchor="middle" textLength="10" lengthAdjust="spacingAndGlyphs">−5</text></g>
<text class="pl" x="195.5" y="140.8" textLength="40.5" lengthAdjust="spacingAndGlyphs">West Afr.</text>
<rect x="66.4" y="236.2" width="17.5" height="90.1" fill="#bebebe" fill-opacity="0.585"/>
<rect x="26.5" y="272.3" width="97.3" height="18" fill="#bebebe" fill-opacity="0.585"/>
<path d="M26.5 280.6H123.8M75 236.2V326.3" stroke="#111" stroke-width="1.5" stroke-dasharray="3.8 1.9" fill="none"/>
<path d="M82.5 283.9h0M84.1 274.5h0M90.4 283.6h0M86.3 278.8h0M78.5 275.9h0M87.1 276.3h0M89.9 275.4h0M99.1 280.1h0M84.3 277.8h0M83.9 280.8h0" stroke="#008000" stroke-width="2.0" stroke-linecap="round" fill="none"/>
<path d="M82.9 287.5h0M94.8 285h0M87.6 301.6h0M91.4 278.9h0M98.1 283.6h0M97.7 286.6h0M92.6 286h0M93.1 289.1h0M88.2 289.2h0M92.9 287.8h0M87.8 285.6h0M92.4 299.4h0M90.2 291.5h0M92.4 291h0" stroke="#ff0000" stroke-width="2.0" stroke-linecap="round" fill="none"/>
<path d="M78 287.6h0M81.7 292.3h0M86.3 286.6h0M87.7 287.7h0M89.2 292.6h0M88.6 288.5h0M89.4 292.5h0M79.7 284.2h0M80.2 291.8h0M80.4 284h0M84.1 287.1h0M86 290.4h0M84.5 288h0M81.8 289.1h0M81.7 289.3h0" stroke="#0000ff" stroke-width="2.0" stroke-linecap="round" fill="none"/>
<path d="M67.2 277.7h0M76.5 281.5h0M73.4 282.9h0M73.4 279.3h0M70.6 285.6h0M68.6 285.2h0M73 275.7h0M74.2 275.8h0M75 285.9h0M75.1 278.7h0M68.4 287.5h0M71.4 279.6h0M70.9 281.4h0M82.8 292.8h0M73.9 275.2h0M75.3 285.1h0M73.3 281.7h0" stroke="#000000" stroke-width="2.0" stroke-linecap="round" fill="none"/>
<path d="M61 264.8h0" stroke="#000000" stroke-width="2.0" stroke-linecap="round" fill="none"/>
<path d="M81.4 279.1h0M83.4 275.1h0M75.4 283.5h0M71.8 272.4h0M80.4 279.6h0M90.6 277.4h0M73.6 282.6h0M83.9 282.4h0M79.6 279.5h0M85.1 278.1h0" stroke="#008000" stroke-width="2.0" stroke-linecap="round" fill="none"/>
<path d="M91.7 291.1h0M94.7 290.3h0M94.2 291h0M89 287.6h0M88.9 294.3h0M88.8 286.1h0M93.1 292.5h0M88 291.2h0M87.6 294.2h0M95.1 288.1h0M84.7 288.9h0M95 288h0M92.1 290.9h0M93.5 285.6h0" stroke="#ff0000" stroke-width="2.0" stroke-linecap="round" fill="none"/>
<path d="M86.8 282.5h0M88.2 291.7h0M77 284.4h0M80.5 282.5h0M75.7 284h0M77.8 282.8h0M85.8 288.5h0M82.8 286.2h0M81 287.8h0M84.8 286.9h0M94.5 289.1h0M76.9 288.4h0M84.5 286.4h0M77.5 289.6h0M82.2 292.3h0" stroke="#0000ff" stroke-width="2.0" stroke-linecap="round" fill="none"/>
<path d="M72.3 282.7h0M74.6 270.3h0M72.3 275.7h0M72.3 283.3h0M77.4 288.8h0M72.7 276.8h0M73.1 283.4h0M75.4 272.7h0M71.5 285.5h0M71.1 285.1h0M70.4 280.1h0M65.5 283.4h0M75.4 278.1h0M66.3 287.3h0M77.8 281.3h0M72.7 285.1h0M72.6 282.3h0" stroke="#000000" stroke-width="2.0" stroke-linecap="round" fill="none"/>
<path d="" stroke="#000000" stroke-width="2.0" stroke-linecap="round" fill="none"/>
<path d="M81 273.5h0M86 281.2h0M87.4 283.2h0M73.4 280.9h0M82.2 275.2h0M76.5 278h0M74.8 279h0M96.1 276.1h0M83.1 276.1h0M84.3 286.7h0" stroke="#008000" stroke-width="2.0" stroke-linecap="round" fill="none"/>
<path d="M89.2 290.9h0M96.2 287.5h0M92.7 277.8h0M97 289.4h0M93.9 289.4h0M93 292h0M96.2 283.5h0M90 289.2h0M92.8 286.6h0M91.9 290.7h0M88.3 291.9h0M86.8 283.3h0M89.3 295.3h0" stroke="#ff0000" stroke-width="2.0" stroke-linecap="round" fill="none"/>
<path d="M82.3 291.3h0M78.3 284.7h0M87.1 294.5h0M84.3 289.3h0M85.8 290.1h0M81.5 284.5h0M74.6 283h0M80.3 290.1h0M82.9 289.4h0M77.8 288h0M81.5 291.7h0M82.9 290.7h0M87.5 298.9h0M79 289.6h0M73.2 286.7h0" stroke="#0000ff" stroke-width="2.0" stroke-linecap="round" fill="none"/>
<path d="M78.6 277.6h0M75.1 276h0M75.2 289.4h0M67.4 279.7h0M73.6 281.5h0M75.1 285.4h0M71.9 277.2h0M69 277h0M80.5 280.5h0M73.8 279.4h0M75 275.4h0M69 282.2h0M79.2 284h0M73.4 284.8h0M71.2 286h0M74.6 284.5h0M68.8 287.4h0" stroke="#000000" stroke-width="2.0" stroke-linecap="round" fill="none"/>
<path d="" stroke="#000000" stroke-width="2.0" stroke-linecap="round" fill="none"/>
<path d="M89.7 276h0M83.9 286.7h0M87.1 275.9h0M83.7 279.2h0M80.8 286.7h0M83.3 282.4h0M83.4 278.4h0M84.6 279.4h0M94.4 279.6h0M69.2 280.2h0" stroke="#008000" stroke-width="2.0" stroke-linecap="round" fill="none"/>
<path d="M90.1 293.7h0M90.1 288h0M83.5 289.7h0M88.9 292.8h0M91.9 289.1h0M93.3 289.2h0M90.5 289.4h0M98.2 287.7h0M96.3 289.5h0M89.3 295.6h0M91.1 289.9h0M90.7 289.2h0M86.5 290.4h0" stroke="#ff0000" stroke-width="2.0" stroke-linecap="round" fill="none"/>
<path d="M85 286h0M79.1 286.9h0M79.4 292.3h0M83.2 287.5h0M91.9 287h0M86.9 295.6h0M77.3 288.4h0M93.3 285.9h0M81 292.1h0M87.6 283.9h0M78.2 286.8h0M87 294.4h0M80.7 289.7h0M82.2 293h0M74.6 290.6h0" stroke="#0000ff" stroke-width="2.0" stroke-linecap="round" fill="none"/>
<path d="M74.4 275h0M77.4 279.2h0M67 286h0M76.6 277.1h0M75.3 273h0M69.2 277h0M72.7 276h0M75.6 278.5h0M69.6 274.4h0M71.2 283.1h0M67.7 269.8h0M69.7 277.7h0M66.4 277.6h0M76.1 282.2h0M72.7 273.3h0M77.1 278.1h0M75.2 276.5h0" stroke="#000000" stroke-width="2.0" stroke-linecap="round" fill="none"/>
<path d="" stroke="#000000" stroke-width="2.0" stroke-linecap="round" fill="none"/>
<path d="M80.2 277.5h0M87.5 282h0M76.3 286h0M85.9 282h0M77 274.4h0M88.1 279.9h0M81 284.6h0M87.7 280.5h0M74.9 283.6h0M86.9 276.5h0" stroke="#008000" stroke-width="2.0" stroke-linecap="round" fill="none"/>
<path d="M91.2 289.6h0M92 292.9h0M83.6 283.5h0M87.6 291.4h0M95.1 287.7h0M86.3 284.6h0M87.6 288.6h0M88.6 285h0M87.5 290.9h0M93 291.1h0M87.9 291.6h0M81 296.3h0M90 292.6h0" stroke="#ff0000" stroke-width="2.0" stroke-linecap="round" fill="none"/>
<path d="M89.8 288.8h0M74.6 286.4h0M79.6 293.6h0M90.2 290h0M86.9 288h0M85.6 285.9h0M84.4 286.4h0M82.9 289.1h0M82.7 289.6h0M90.8 292h0M81.8 297.8h0M84.5 290.7h0M80.3 292.9h0M81.7 292.5h0M75.1 282.2h0" stroke="#0000ff" stroke-width="2.0" stroke-linecap="round" fill="none"/>
<path d="M71.1 279.5h0M72.9 275.2h0M75.8 287.6h0M69.7 284.3h0M74.4 285.8h0M77.1 287.9h0M61.9 277.5h0M77.2 274.2h0M71.7 287.1h0M65.7 276.6h0M69.8 271.5h0M74.3 281.2h0M75.2 267.7h0M76.9 284.3h0M75.1 276.8h0M68.8 283.2h0" stroke="#000000" stroke-width="2.0" stroke-linecap="round" fill="none"/>
<path d="" stroke="#000000" stroke-width="2.0" stroke-linecap="round" fill="none"/>
<path d="M88.8 279.8h0M84.9 279.4h0M85.7 275.3h0M70.1 279h0M85.8 282h0M90.2 280.3h0M67.3 282.9h0M88.4 278.6h0M79.1 281.7h0M75 287.1h0" stroke="#008000" stroke-width="2.0" stroke-linecap="round" fill="none"/>
<path d="M88.4 294.4h0M92.3 297.2h0M88.8 288h0M92.1 293.4h0M91 297.6h0M81.1 290.5h0M90.6 292.9h0M85 290.8h0M83.3 287.1h0M92.4 283.4h0M89.8 286.2h0M87.4 285.5h0M84.3 290.3h0" stroke="#ff0000" stroke-width="2.0" stroke-linecap="round" fill="none"/>
<path d="M78.6 283.2h0M86.2 289.6h0M85.8 288.3h0M78.1 292h0M89.2 291h0M83.3 286.5h0M79.2 293.7h0M82.8 288.2h0M84 285.5h0M81.2 292.5h0M78.9 287.3h0M78.1 286.7h0M84.9 290h0M78 289.5h0M73.2 291.8h0" stroke="#0000ff" stroke-width="2.0" stroke-linecap="round" fill="none"/>
<path d="M71.6 283.1h0M75.1 281h0M72 290h0M76.7 285.7h0M69.1 277.1h0M78.2 268.2h0M75.8 284.4h0M73.4 280.2h0M74.1 284.1h0M72.5 281.7h0M76.4 276.6h0M72.7 280h0M79 283.8h0M68.6 279.2h0M75.3 280.9h0M67.4 290.5h0" stroke="#000000" stroke-width="2.0" stroke-linecap="round" fill="none"/>
<path d="" stroke="#000000" stroke-width="2.0" stroke-linecap="round" fill="none"/>
<path d="M29.7 281.3V296.5M26.5 281.3H32.9M26.5 296.5H32.9" stroke="#ff0000" stroke-width="1.4" fill="none"/>
<path d="M32.7 275.7V288.6M29.5 275.7H35.9M29.5 288.6H35.9" stroke="#008000" stroke-width="1.4" fill="none"/>
<path d="M35.6 282.4V295.3M32.4 282.4H38.8M32.4 295.3H38.8" stroke="#0000ff" stroke-width="1.4" fill="none"/>
<path d="M77.8 317.7H93.3M77.8 314.5V320.9M93.3 314.5V320.9" stroke="#0000ff" stroke-width="1.4" fill="none"/>
<path d="M76 320.6H96.3M76 317.4V323.8M96.3 317.4V323.8" stroke="#008000" stroke-width="1.4" fill="none"/>
<path d="M81.5 323.2H98M81.5 320V326.4M98 320V326.4" stroke="#ff0000" stroke-width="1.4" fill="none"/>
<rect x="26.5" y="236.2" width="97.3" height="90.1" fill="none" stroke="#4d4d4d" stroke-width="1.1"/>
<path d="M26.5 308.5h-2.9M105.5 326.3v2.7M26.5 280.5h-2.9M75.5 326.3v2.7M26.5 252.5h-2.9M44.5 326.3v2.7" stroke="#222" stroke-width="1" fill="none"/>
<g class="tl"><text x="20.9" y="255.4" text-anchor="end">5</text><text x="44.6" y="337" text-anchor="middle">5</text><text x="20.9" y="283.6" text-anchor="end">0</text><text x="75" y="337" text-anchor="middle">0</text><text x="20.9" y="311.8" text-anchor="end" textLength="7.6" lengthAdjust="spacingAndGlyphs">−5</text><text x="105.3" y="337" text-anchor="middle" textLength="10" lengthAdjust="spacingAndGlyphs">−5</text></g>
<text class="pl" x="74.1" y="247.7" textLength="44.1" lengthAdjust="spacingAndGlyphs">Mar.Cont.</text>
<rect x="182.8" y="236.2" width="20.4" height="90.1" fill="#bebebe" fill-opacity="0.585"/>
<rect x="144.2" y="270.6" width="97.4" height="19.6" fill="#bebebe" fill-opacity="0.585"/>
<path d="M144.2 280.6H241.6M192.6 236.2V326.3" stroke="#111" stroke-width="1.5" stroke-dasharray="3.8 1.9" fill="none"/>
<path d="M184.2 291.7h0M203.5 293.2h0M194.2 295.3h0M200.8 289.8h0M183.8 291h0M194.3 290.3h0M191.4 282.1h0M188.4 278.5h0M193.9 285h0M178.9 292.7h0M191.1 283.9h0M195.7 295.3h0M190.4 292h0M184.4 289h0M196.3 290.9h0" stroke="#0000ff" stroke-width="2.0" stroke-linecap="round" fill="none"/>
<path d="M197.6 321.6h0M205.8 323h0M203.3 321.1h0M200.1 314.2h0M209.8 319.8h0M197.9 318.4h0M201.5 323.5h0M198.9 318.5h0M200.9 323.7h0M203.3 320.1h0" stroke="#008000" stroke-width="2.0" stroke-linecap="round" fill="none"/>
<path d="M196.6 312.9h0M195.5 305.1h0M196.5 309.9h0M207.9 319.3h0M195.9 312.3h0M202.8 318.6h0M194.6 310.1h0M201.5 313.2h0M192.2 317.7h0M197.5 312.4h0M193.1 315.8h0M196.5 317.1h0M196.2 312.9h0M193 314.5h0M190.8 318.8h0M194.8 317h0M199.4 308.3h0" stroke="#ff0000" stroke-width="2.0" stroke-linecap="round" fill="none"/>
<path d="M208.3 321.6h0M216.7 307.5h0" stroke="#ff0000" stroke-width="2.0" stroke-linecap="round" fill="none"/>
<path d="M179.6 278.9h0M193.5 277.3h0M189.3 276.4h0M182.4 277.9h0M191.8 278.7h0M198.8 282.6h0M189 275.5h0M202.5 278.1h0M191.2 267.4h0M196.8 274.2h0M200.3 275.4h0M201.9 291.5h0M200 274.9h0M185.9 282.8h0M196.6 277.6h0M204 285.4h0M201.2 280.9h0" stroke="#000000" stroke-width="2.0" stroke-linecap="round" fill="none"/>
<path d="M188.8 280.1h0M193.2 287.3h0M185.2 287.1h0M198.8 290.7h0M191.3 290.4h0M195.2 293.5h0M180.9 293.1h0M186.5 280.1h0M192 291.3h0M195.6 286.6h0M191.8 293.5h0M186.7 283.9h0M190.4 288.4h0M199.3 292.2h0M190.8 291.7h0" stroke="#0000ff" stroke-width="2.0" stroke-linecap="round" fill="none"/>
<path d="M198.5 316.7h0M198 318.4h0M193.5 323.2h0M197 314.2h0M204.4 317.3h0M203.2 316h0M206 317.1h0M204.8 324.4h0M198.6 317.1h0M193.2 320.4h0" stroke="#008000" stroke-width="2.0" stroke-linecap="round" fill="none"/>
<path d="M199.9 308.3h0M199.7 308.4h0M204.7 319.7h0M186.6 314.1h0M190.3 314.3h0M196.4 311.7h0M193.1 310.4h0M194.8 307.5h0M191.2 309.1h0M197.3 306.9h0M195 320.4h0M196 315.5h0M196.9 308.3h0M194.2 315.6h0M196.1 303.9h0M203.3 313.9h0M194.1 310.8h0" stroke="#ff0000" stroke-width="2.0" stroke-linecap="round" fill="none"/>
<path d="M218.4 316.2h0M210.7 307.4h0" stroke="#ff0000" stroke-width="2.0" stroke-linecap="round" fill="none"/>
<path d="M208.2 278.3h0M189.9 281.9h0M192.8 272.8h0M198.4 276.9h0M195.1 273.8h0M197 266.6h0M202.3 275.6h0M182.9 282.5h0M194.1 279.9h0M192.6 284.7h0M199.9 281.2h0M195 281h0M198.4 272.1h0M187.9 275h0M195.4 285.6h0M198.4 274.1h0M175.5 276.8h0" stroke="#000000" stroke-width="2.0" stroke-linecap="round" fill="none"/>
<path d="M190 295h0M187.4 299.9h0M194.6 300.9h0M189.7 288.3h0M189.1 289.1h0M198.6 294.1h0M196.7 295.9h0M194.6 291.4h0M190.1 296.4h0M189.7 285.2h0M185.8 293.1h0M192.5 291.6h0M187.8 295.3h0M200.8 290.2h0M196.1 293.8h0" stroke="#0000ff" stroke-width="2.0" stroke-linecap="round" fill="none"/>
<path d="M197.2 321.1h0M202.4 324.4h0M198.2 317.2h0M201.4 322.2h0M200.7 312.4h0M204.6 315.2h0M206.3 320.5h0M203.9 323.9h0M197.5 318.4h0" stroke="#008000" stroke-width="2.0" stroke-linecap="round" fill="none"/>
<path d="M192.6 307.6h0M201.6 318.5h0M204.1 318.5h0M197.4 312.1h0M198.7 317.6h0M197.6 320.1h0M196.1 315.8h0M190.6 319h0M202.6 311.7h0M199.7 309.8h0M202.6 313.9h0M202.6 311.3h0M192.9 322.9h0M191.6 304h0M204.5 310.5h0M195.6 316.6h0" stroke="#ff0000" stroke-width="2.0" stroke-linecap="round" fill="none"/>
<path d="M207.9 315.4h0M213.2 307.2h0" stroke="#ff0000" stroke-width="2.0" stroke-linecap="round" fill="none"/>
<path d="M185.8 279.9h0M195.6 283.8h0M193.3 280.6h0M193.9 275.8h0M197.9 280.1h0M198.3 278.6h0M206.2 280.3h0M198.9 290.4h0M209.4 283.8h0M196.2 281.9h0M198.6 288.6h0M199.4 280.1h0M190.2 285.8h0M193 276.6h0M190.6 274.7h0M190.4 277.3h0M192.6 284.8h0" stroke="#000000" stroke-width="2.0" stroke-linecap="round" fill="none"/>
<path d="M190.9 296.7h0M185.3 285.5h0M186.4 281.4h0M200.9 299.7h0M189.2 293h0M202.9 299.1h0M184.2 297.3h0M197.5 293.2h0M202.4 288.8h0M196.6 281.8h0M199.5 297.5h0M186.8 291.9h0M191.7 291.7h0M190.1 282.6h0M195 291.9h0" stroke="#0000ff" stroke-width="2.0" stroke-linecap="round" fill="none"/>
<path d="M198.2 312.5h0M199.1 311.1h0M208.1 322.5h0M205 316.2h0M200.4 323.6h0M192.7 315.1h0M200.5 320.7h0M198.7 317.8h0M208.6 314.6h0" stroke="#008000" stroke-width="2.0" stroke-linecap="round" fill="none"/>
<path d="M194.7 312.7h0M200.9 318.3h0M206.3 309.7h0M201.5 317.3h0M194 301.9h0M200.2 313.5h0M195 317.2h0M192.3 314.3h0M204.7 313.2h0M196.6 313.5h0M199.8 309.3h0M195.4 316.4h0M194.6 317.1h0M201.7 312.4h0M198.6 310.9h0M184.8 317.6h0" stroke="#ff0000" stroke-width="2.0" stroke-linecap="round" fill="none"/>
<path d="M214.5 306.1h0M215.1 314.1h0" stroke="#ff0000" stroke-width="2.0" stroke-linecap="round" fill="none"/>
<path d="M201.2 279.2h0M193.9 272.9h0M185.9 276.9h0M205.4 284.5h0M196.1 276.7h0M193.6 278.6h0M187.4 284.9h0M204 283.4h0M189.9 282.8h0M187.5 276.8h0M197.4 283.8h0M192.6 274.8h0M187.9 280.3h0M207.6 272.3h0M175.6 281h0M190.4 274.4h0M191.1 278.8h0" stroke="#000000" stroke-width="2.0" stroke-linecap="round" fill="none"/>
<path d="M189.8 291h0M191.4 288.4h0M197.9 300.2h0M179.1 285.3h0M187.1 289.2h0M191.8 288.5h0M188.8 293.3h0M188.2 293.1h0M189.9 277.4h0M190.1 302.8h0M182.4 285.1h0M195.9 292.4h0M186.1 287.2h0M188.5 299.7h0M187.3 289.4h0" stroke="#0000ff" stroke-width="2.0" stroke-linecap="round" fill="none"/>
<path d="M203.2 316.3h0M207.2 319.4h0M199 311.9h0M201.5 321.1h0M209.7 323.6h0M193.2 313.7h0M194.2 316h0M201.9 317.8h0M207.7 315.1h0" stroke="#008000" stroke-width="2.0" stroke-linecap="round" fill="none"/>
<path d="M200 310.6h0M190.9 321.4h0M197.2 324.4h0M192.7 314.1h0M202 317.7h0M192.2 322.1h0M199.1 309.8h0M196.7 308.9h0M196.1 314h0M205.2 305.8h0M196.4 315.3h0M199.6 312.9h0M192.8 314.6h0M202.4 315.4h0M205 319.1h0M195.4 317.6h0" stroke="#ff0000" stroke-width="2.0" stroke-linecap="round" fill="none"/>
<path d="M211.9 315.9h0" stroke="#ff0000" stroke-width="2.0" stroke-linecap="round" fill="none"/>
<path d="M196.9 280.5h0M196.4 278.5h0M187.5 284.5h0M200.2 273.4h0M196.3 276.5h0M184.1 277.3h0M203.8 272.9h0M191.5 277.4h0M185.2 277h0M193.6 284.6h0M187.1 276.6h0M199.3 274.7h0M189.9 268.6h0M197.7 284.9h0M187.1 281.6h0M195.8 281.1h0" stroke="#000000" stroke-width="2.0" stroke-linecap="round" fill="none"/>
<path d="M189.7 293.1h0M203.8 276.7h0M190 277.6h0M202.8 288.8h0M191.1 298.9h0M197.3 294.1h0M194.5 286.1h0M189.6 294.7h0M191.2 288.4h0M192.3 293.8h0M182.2 297.5h0M185.7 278.2h0M193 284.9h0M194 295.4h0M186.3 297.1h0" stroke="#0000ff" stroke-width="2.0" stroke-linecap="round" fill="none"/>
<path d="M202.1 320.4h0M201.1 319.2h0M201.2 321.1h0M198.3 318.4h0M203.5 319.2h0M205.5 318.2h0M200 321.3h0M199.6 315.3h0M199.5 322.2h0" stroke="#008000" stroke-width="2.0" stroke-linecap="round" fill="none"/>
<path d="M202.3 320.4h0M198.6 311.7h0M200.8 315.2h0M195.7 315h0M203.2 304.1h0M204.4 313.5h0M192.2 311.7h0M196.6 310.6h0M194.8 313h0M195.2 312.5h0M198.3 314h0M201.3 325.3h0M199.6 313.2h0M200.1 317.6h0M187.5 319.2h0M204.2 321.7h0" stroke="#ff0000" stroke-width="2.0" stroke-linecap="round" fill="none"/>
<path d="M211.2 320.6h0" stroke="#ff0000" stroke-width="2.0" stroke-linecap="round" fill="none"/>
<path d="M190.6 295.6h0M191.2 272.7h0M176.9 278.3h0M186 285.3h0M199.1 285.6h0M197.2 287h0M202.9 278.6h0M191.1 275.9h0M181.1 287.1h0M187.7 274.4h0M197.1 287.6h0M196.3 273h0M195 282.1h0M180.4 271.4h0M194.5 273.1h0M195.3 277.5h0" stroke="#000000" stroke-width="2.0" stroke-linecap="round" fill="none"/>
<path d="M147.3 305.6V323.4M144.1 305.6H150.5M144.1 323.4H150.5" stroke="#ff0000" stroke-width="1.4" fill="none"/>
<path d="M149.7 312V325.8M146.5 312H152.9M146.5 325.8H152.9" stroke="#008000" stroke-width="1.4" fill="none"/>
<path d="M152.8 283.8V298.9M149.6 283.8H156M149.6 298.9H156" stroke="#0000ff" stroke-width="1.4" fill="none"/>
<path d="M182.9 317.7H202.8M182.9 314.5V320.9M202.8 314.5V320.9" stroke="#0000ff" stroke-width="1.4" fill="none"/>
<path d="M190.3 320.5H208.4M190.3 317.3V323.7M208.4 317.3V323.7" stroke="#008000" stroke-width="1.4" fill="none"/>
<path d="M189.8 322.8H208.4M189.8 319.6V326M208.4 319.6V326" stroke="#ff0000" stroke-width="1.4" fill="none"/>
<rect x="144.2" y="236.2" width="97.4" height="90.1" fill="none" stroke="#4d4d4d" stroke-width="1.1"/>
<path d="M144.2 308.5h-2.9M222.5 326.3v2.7M144.2 280.5h-2.9M192.5 326.3v2.7M144.2 252.5h-2.9M162.5 326.3v2.7" stroke="#222" stroke-width="1" fill="none"/>
<g class="tl"><text x="138.6" y="255.4" text-anchor="end">5</text><text x="162.2" y="337" text-anchor="middle">5</text><text x="138.6" y="283.6" text-anchor="end">0</text><text x="192.6" y="337" text-anchor="middle">0</text><text x="138.6" y="311.8" text-anchor="end" textLength="7.6" lengthAdjust="spacingAndGlyphs">−5</text><text x="222.9" y="337" text-anchor="middle" textLength="10" lengthAdjust="spacingAndGlyphs">−5</text></g>
<text class="pl" x="194.6" y="247.7" textLength="41.4" lengthAdjust="spacingAndGlyphs">Mid. East</text>
<rect x="400.9" y="21.7" width="17.8" height="90.3" fill="#bebebe" fill-opacity="0.585"/>
<rect x="359.9" y="56.9" width="97.3" height="19.6" fill="#bebebe" fill-opacity="0.585"/>
<path d="M359.9 66.8H457.2M408.4 21.7V112" stroke="#111" stroke-width="1.5" stroke-dasharray="3.8 1.9" fill="none"/>
<path d="M410.4 74.7h0M409.3 74.4h0M412.1 70.9h0M413.3 63.5h0M411.8 78.7h0M405.4 70.4h0M424.8 77.7h0M414.2 83h0M421.7 85.2h0M421.8 76.3h0M412.8 75.8h0M416.3 81.4h0M412 80.4h0M415.2 81.9h0" stroke="#008000" stroke-width="2.0" stroke-linecap="round" fill="none"/>
<path d="M408.2 60.7h0M398.7 67.3h0M412.5 72.1h0M409.2 61.8h0M402.5 71.9h0M415.6 70.8h0M400.8 65.3h0M402.2 59.4h0M417.6 84.3h0M407.4 78.1h0M394.3 62.5h0M413.1 66.8h0M405.1 67.6h0M406.3 70.2h0M418.2 73.4h0" stroke="#ff0000" stroke-width="2.0" stroke-linecap="round" fill="none"/>
<path d="M398.3 61.6h0M417.5 72h0M415.7 74.2h0M418.4 68.6h0M416.3 76.2h0M403.9 70.1h0M410.3 60.8h0M404 66.5h0M414 70.4h0M400.4 65.5h0M411.7 69.4h0M417.2 72.7h0M404 67.3h0M412.2 72.7h0M414.2 79.7h0M407.4 70.3h0M415.8 72.1h0M415.9 69.8h0M415.3 63.2h0M415.1 76.1h0" stroke="#0000ff" stroke-width="2.0" stroke-linecap="round" fill="none"/>
<path d="M403.3 59.8h0M402.8 59.5h0M396.3 59.7h0M391.9 56.8h0" stroke="#000000" stroke-width="2.0" stroke-linecap="round" fill="none"/>
<path d="M403.9 57.5h0" stroke="#000000" stroke-width="2.0" stroke-linecap="round" fill="none"/>
<path d="M415.7 81.1h0M413.9 74.4h0M422.9 81.5h0M409.9 75.5h0M415.2 74.7h0M425.3 75.4h0M413.1 69h0M413.8 74.3h0M409.5 70.1h0M416.9 72.1h0M418.3 77.1h0M422.3 79.8h0M423.3 85.4h0M422.7 74h0" stroke="#008000" stroke-width="2.0" stroke-linecap="round" fill="none"/>
<path d="M403.9 68.1h0M419.2 77.1h0M415.3 69h0M404.5 65h0M414.7 75.4h0M413.3 66.8h0M405.7 67.7h0M406.4 75.3h0M412.2 67h0M414 73.6h0M406.7 64.7h0M415.7 73.9h0M416 76.6h0M423.2 69.3h0M407.9 69.9h0" stroke="#ff0000" stroke-width="2.0" stroke-linecap="round" fill="none"/>
<path d="M404.3 73.2h0M410.9 70.5h0M406.6 66.4h0M400.4 62h0M414.3 72.6h0M407.1 63.3h0M409 65.6h0M408.9 67.9h0M412.7 68.1h0M416.7 68.6h0M416 71.4h0M413.8 74.1h0M405 59.9h0M412.5 71.4h0M405 61.5h0M417.1 69.5h0M404.1 66.2h0M411 62.6h0M404.3 64.7h0M408.8 66.4h0" stroke="#0000ff" stroke-width="2.0" stroke-linecap="round" fill="none"/>
<path d="M390.8 60.4h0M397.8 58.9h0M403.5 59.4h0M398.6 58.9h0" stroke="#000000" stroke-width="2.0" stroke-linecap="round" fill="none"/>
<path d="M402.1 53.7h0" stroke="#000000" stroke-width="2.0" stroke-linecap="round" fill="none"/>
<path d="M425.2 82.8h0M413.9 81.4h0M419.1 81.4h0M420.1 79.6h0M414.9 72.8h0M420.4 82.3h0M418.8 77h0M425.7 81.7h0M415.8 79.2h0M409.6 73.5h0M420.9 81.2h0M410.2 70.4h0M420.6 75.4h0" stroke="#008000" stroke-width="2.0" stroke-linecap="round" fill="none"/>
<path d="M414.4 70.9h0M411.6 68.5h0M412.3 73.3h0M409.5 75.6h0M412.8 77.2h0M409.2 72.4h0M411.1 74.8h0M414.9 78.5h0M424.7 79.7h0M418.1 75.7h0M410.4 65.6h0M410.7 70.4h0M411.5 71.6h0M404.8 76.1h0M400.1 60.2h0" stroke="#ff0000" stroke-width="2.0" stroke-linecap="round" fill="none"/>
<path d="M412.6 71h0M415.8 73.6h0M402.1 59.5h0M411.1 69.8h0M422.6 79.6h0M415.3 67.1h0M407.4 69h0M398.8 63h0M412.8 74.6h0M417.4 70.1h0M407.7 60h0M409.3 68.8h0M415.8 67.8h0M407.8 67.6h0M409.8 73.2h0M415.4 66.9h0M405.7 55.5h0M403.8 66.1h0M418.4 70.3h0M414.1 65.6h0" stroke="#0000ff" stroke-width="2.0" stroke-linecap="round" fill="none"/>
<path d="M397.2 61h0M399.6 62h0M399.2 56.8h0M397.9 60.1h0" stroke="#000000" stroke-width="2.0" stroke-linecap="round" fill="none"/>
<path d="M408.4 54.8h0" stroke="#000000" stroke-width="2.0" stroke-linecap="round" fill="none"/>
<path d="M408.4 71.1h0M413.3 71.1h0M418.8 71.2h0M415.9 79.6h0M423.6 81.7h0M411.1 75.2h0M423.3 79.3h0M415 70h0M417.3 74.1h0M413.4 75.7h0M417.9 81.3h0M413.6 79h0M419.7 79.5h0" stroke="#008000" stroke-width="2.0" stroke-linecap="round" fill="none"/>
<path d="M413.9 69.7h0M408.5 72.4h0M399.4 72.5h0M412.4 78.4h0M401.9 63h0M416.9 66.1h0M406.2 68h0M399.3 60.8h0M413 82.6h0M402.3 75.4h0M403.1 65.3h0M410.5 62.8h0M420.4 69.5h0M412.1 79.5h0M414.9 85.7h0" stroke="#ff0000" stroke-width="2.0" stroke-linecap="round" fill="none"/>
<path d="M399.2 64.8h0M420.3 76.1h0M412.4 73.2h0M409.1 65.8h0M418 66.9h0M412.8 73.2h0M402.2 55.8h0M412.1 72.3h0M407.2 73.8h0M405.1 62.9h0M406.8 71.9h0M406.3 64.3h0M416.5 78.7h0M404.1 62.7h0M405.8 67.1h0M410.5 62.7h0M413.5 74h0M416.2 68.3h0M405.8 67.7h0M404.4 67.3h0" stroke="#0000ff" stroke-width="2.0" stroke-linecap="round" fill="none"/>
<path d="M400.4 60.5h0M389.5 57.2h0M399.7 60.7h0M396.6 56.5h0" stroke="#000000" stroke-width="2.0" stroke-linecap="round" fill="none"/>
<path d="M404.6 54h0" stroke="#000000" stroke-width="2.0" stroke-linecap="round" fill="none"/>
<path d="M424.8 87.3h0M407.4 70.7h0M421.8 82.2h0M414.5 76.6h0M418.9 64h0M411.2 66.1h0M411.3 69.5h0M417.9 80.2h0M418.7 70h0M410.7 71.6h0M417.2 75.6h0M415.3 74.3h0M419.2 76.4h0" stroke="#008000" stroke-width="2.0" stroke-linecap="round" fill="none"/>
<path d="M404.9 58.8h0M407.8 73.6h0M406.4 62.8h0M415.2 72.3h0M402.5 64.7h0M406.9 70.3h0M406.5 60.1h0M412.3 74.2h0M403.6 66.4h0M406.3 64.7h0M423.6 85.5h0M417.5 69.4h0M415 69.6h0M414.6 66.7h0M404.9 75.5h0" stroke="#ff0000" stroke-width="2.0" stroke-linecap="round" fill="none"/>
<path d="M409.9 67.1h0M409.4 65.3h0M405.5 67.9h0M411.5 76.9h0M410 64.9h0M405.7 72.5h0M399.4 64.4h0M417.9 74.1h0M404.3 61.8h0M411.4 64.3h0M417 71.4h0M407.6 84h0M409.8 65.3h0M415.7 79h0M404.6 73.7h0M406.4 61.6h0M416.7 73h0M407.3 63h0M410.7 66.1h0M401.4 64.6h0" stroke="#0000ff" stroke-width="2.0" stroke-linecap="round" fill="none"/>
<path d="M407.2 61.4h0M394.6 60.1h0M395.4 60.2h0" stroke="#000000" stroke-width="2.0" stroke-linecap="round" fill="none"/>
<path d="M407.4 56h0" stroke="#000000" stroke-width="2.0" stroke-linecap="round" fill="none"/>
<path d="M412.6 84.4h0M413.6 75.9h0M427 76.4h0M422.9 71.9h0M418.6 69.1h0M412 67.2h0M419.4 74.7h0M416.1 76.3h0M418.2 75.1h0M409 67.4h0M419.6 77.2h0M421.9 78.9h0M417.2 76.1h0" stroke="#008000" stroke-width="2.0" stroke-linecap="round" fill="none"/>
<path d="M401.3 70.4h0M416.9 77.9h0M417 66.2h0M418.6 75h0M402.6 71.1h0M409.3 75.7h0M413.9 73.3h0M413.5 72h0M406.8 70.2h0M413.2 67.5h0M418.8 69.9h0M403.6 63.3h0M402.5 64h0M401.4 66.7h0M409 65.3h0" stroke="#ff0000" stroke-width="2.0" stroke-linecap="round" fill="none"/>
<path d="M398.5 61.6h0M400.7 55.9h0M421.5 76.3h0M413.9 64.1h0M410.4 69.9h0M411.1 70.2h0M409.7 65.4h0M409 70.2h0M420.7 75.7h0M411.8 65.1h0M418.6 70.5h0M414.6 72.5h0M408 59.9h0M409.8 66.3h0M413.8 70.8h0M405.4 66.1h0M406.3 62.3h0M416.7 68.7h0M413.5 72h0M413.1 70.1h0" stroke="#0000ff" stroke-width="2.0" stroke-linecap="round" fill="none"/>
<path d="M405.8 58h0M396.3 59.3h0M389.1 53.9h0" stroke="#000000" stroke-width="2.0" stroke-linecap="round" fill="none"/>
<path d="" stroke="#000000" stroke-width="2.0" stroke-linecap="round" fill="none"/>
<path d="M362.8 64V80.3M359.6 64H366M359.6 80.3H366" stroke="#ff0000" stroke-width="1.4" fill="none"/>
<path d="M365.6 67.4V83.9M362.4 67.4H368.8M362.4 83.9H368.8" stroke="#008000" stroke-width="1.4" fill="none"/>
<path d="M369 60.3V79.8M365.8 60.3H372.2M365.8 79.8H372.2" stroke="#0000ff" stroke-width="1.4" fill="none"/>
<path d="M399.3 103.3H421.4M399.3 100.1V106.5M421.4 100.1V106.5" stroke="#0000ff" stroke-width="1.4" fill="none"/>
<path d="M405.3 106.1H426.3M405.3 102.9V109.3M426.3 102.9V109.3" stroke="#008000" stroke-width="1.4" fill="none"/>
<path d="M404 109.3H422.3M404 106.1V112.5M422.3 106.1V112.5" stroke="#ff0000" stroke-width="1.4" fill="none"/>
<rect x="359.9" y="21.7" width="97.3" height="90.3" fill="none" stroke="#4d4d4d" stroke-width="1.1"/>
<path d="M359.9 95.5h-2.9M438.5 112v2.7M359.9 66.5h-2.9M408.5 112v2.7M359.9 38.5h-2.9M378.5 112v2.7" stroke="#222" stroke-width="1" fill="none"/>
<g class="tl"><text x="354.3" y="41.6" text-anchor="end">5</text><text x="378" y="122.7" text-anchor="middle">5</text><text x="354.3" y="69.8" text-anchor="end">0</text><text x="408.4" y="122.7" text-anchor="middle">0</text><text x="354.3" y="98" text-anchor="end" textLength="7.6" lengthAdjust="spacingAndGlyphs">−5</text><text x="438.8" y="122.7" text-anchor="middle" textLength="10" lengthAdjust="spacingAndGlyphs">−5</text></g>
<text class="pl" x="440" y="33.2" textLength="11.6" lengthAdjust="spacingAndGlyphs">EU</text>
<rect x="515" y="21.7" width="22.5" height="90.3" fill="#bebebe" fill-opacity="0.585"/>
<rect x="477.4" y="59.2" width="96.9" height="18.9" fill="#bebebe" fill-opacity="0.585"/>
<path d="M477.4 66.8H574.3M525.8 21.7V112" stroke="#111" stroke-width="1.5" stroke-dasharray="3.8 1.9" fill="none"/>
<path d="M547.9 83.1h0M552.2 78h0M546.6 87.2h0M546.2 89.8h0M547.4 88h0M547.7 83.6h0M538.9 73.5h0M529.2 67.4h0M542.2 75.5h0M535.2 76.7h0M530.6 63.9h0M541.2 72.8h0M537.9 80.8h0M549.2 83.9h0M551.4 89.6h0" stroke="#008000" stroke-width="2.0" stroke-linecap="round" fill="none"/>
<path d="M528.8 73.7h0M523.2 71.1h0M537.9 77.5h0M541.4 81.2h0M527.1 77.2h0M534.9 70h0M524.9 75.6h0M529.8 65.2h0M532.3 73.6h0M529.2 73.2h0M523.7 70.8h0M536.8 68.1h0M530.1 70.8h0M524.1 70.4h0M532.6 79.5h0M536.4 82.6h0M529.6 75.3h0" stroke="#ff0000" stroke-width="2.0" stroke-linecap="round" fill="none"/>
<path d="M519.2 75.1h0M514.6 66.8h0M517.6 67.5h0M516.1 66.6h0M513.1 65.5h0M513.3 74.7h0M513.7 66.9h0M516.1 66.7h0M512.2 73.5h0M512.8 64.3h0M524.1 62.8h0M516.6 59.7h0M509.9 65.8h0M520.1 71.9h0M516 75.8h0M510.4 62.1h0M511 68h0" stroke="#0000ff" stroke-width="2.0" stroke-linecap="round" fill="none"/>
<path d="M525.5 63.2h0M523.9 70.2h0M521 67.2h0M521.8 65.5h0M518.5 59.4h0M530.3 58.8h0" stroke="#000000" stroke-width="2.0" stroke-linecap="round" fill="none"/>
<path d="M533.7 82.3h0M541.6 75.9h0M543.5 93.4h0M536.2 80.6h0M548.9 88.3h0M540.3 78.8h0M541.4 82.8h0M540.9 76.3h0M546 76.3h0M535.6 77.8h0M537.4 76.6h0M532.2 76.2h0M545.2 76.7h0M549.6 80h0M532.6 69.4h0" stroke="#008000" stroke-width="2.0" stroke-linecap="round" fill="none"/>
<path d="M532.6 71.9h0M534.6 66.6h0M532 78.5h0M527.8 71.5h0M535.5 70h0M526.4 66.9h0M539.8 75h0M543 68.1h0M527.9 77.3h0M524.3 68.9h0M523.8 69.6h0M525.5 63.6h0M523.9 72.2h0M531.3 69.2h0M533.4 78.2h0M528.3 68.6h0M530.8 75.8h0" stroke="#ff0000" stroke-width="2.0" stroke-linecap="round" fill="none"/>
<path d="M518.2 64.4h0M523.9 69.1h0M516.8 70.7h0M504.3 65.4h0M508.8 66.6h0M511.2 67.1h0M528.7 66.7h0M512.9 65.7h0M508.3 67.7h0M510.4 60h0M507.5 65.4h0M516.6 70.1h0M513.8 65h0M512.9 60.8h0M514 63.8h0M509.5 57h0M520.5 60.4h0" stroke="#0000ff" stroke-width="2.0" stroke-linecap="round" fill="none"/>
<path d="M528.8 59.8h0M513.7 65.3h0M524.9 66.1h0M516.6 60.5h0M526.5 61.9h0M526.4 60.3h0" stroke="#000000" stroke-width="2.0" stroke-linecap="round" fill="none"/>
<path d="M542 76.9h0M537.2 74h0M540.8 78.2h0M552.5 91.2h0M538.5 73.6h0M545.9 86.5h0M547.2 82.5h0M548.2 86.9h0M531.3 75h0M534.2 63.9h0M551 81.9h0M537.2 83.8h0M547.9 80.4h0M542.4 80.9h0M550.3 84.7h0" stroke="#008000" stroke-width="2.0" stroke-linecap="round" fill="none"/>
<path d="M529.1 73.2h0M532 67.6h0M520.5 74.5h0M532.4 78.7h0M525.7 74.4h0M530.9 72.7h0M527.9 71h0M524.7 71.5h0M529.5 78.1h0M532 71.4h0M519.5 76.5h0M522.5 64h0M533 76.8h0M531.5 65.1h0M523.4 70.1h0M527 74.8h0M532.1 69h0" stroke="#ff0000" stroke-width="2.0" stroke-linecap="round" fill="none"/>
<path d="M511.5 64.4h0M522 74.4h0M498.4 61.8h0M515.9 64.6h0M514.4 60.4h0M520.1 64.2h0M514.9 70.3h0M508.1 67.2h0M516.7 66.4h0M515.7 65.9h0M509.2 63.3h0M514.2 64.8h0M519.1 70.1h0M515.7 64.8h0M505.6 64.1h0M515.2 70.3h0M518.6 68.4h0" stroke="#0000ff" stroke-width="2.0" stroke-linecap="round" fill="none"/>
<path d="M521.7 60.4h0M525 58.6h0M525.6 65.5h0M533.3 66.8h0M532 60.1h0M516.9 66.8h0" stroke="#000000" stroke-width="2.0" stroke-linecap="round" fill="none"/>
<path d="M538.4 69.8h0M541.2 72.3h0M553 68.2h0M532.5 77.2h0M549.6 83.2h0M539.8 78.4h0M537.9 84.3h0M538.7 80h0M541.6 77.4h0M549.6 84.7h0M554.8 87.3h0M548.7 70.8h0M547.8 89.5h0M539.3 72.9h0M548.1 87.8h0" stroke="#008000" stroke-width="2.0" stroke-linecap="round" fill="none"/>
<path d="M521.9 63.4h0M540.2 75.6h0M531.5 77.4h0M530.3 78h0M526.7 69.5h0M526.6 78.5h0M526.7 65.2h0M520.3 69.2h0M535.7 69.4h0M534.5 64.2h0M528.6 80.5h0M527.1 63.2h0M524.2 78.1h0M530.6 62.6h0M528.9 65.5h0M529.6 66.3h0M528.4 70.5h0" stroke="#ff0000" stroke-width="2.0" stroke-linecap="round" fill="none"/>
<path d="M521.7 70.4h0M514 70h0M505.5 63.7h0M506.8 77.4h0M511.3 63.5h0M515.8 67.5h0M514.9 69.3h0M521.4 76.2h0M509.9 66.5h0M507.2 61.3h0M511.9 67.8h0M515.6 71.9h0M521.7 62.1h0M525.6 64h0M519.8 67.1h0M525.2 70h0M513.6 64.2h0" stroke="#0000ff" stroke-width="2.0" stroke-linecap="round" fill="none"/>
<path d="M532.1 65h0M522.1 59.4h0M523.1 58.1h0M518.5 66.9h0M510.9 60.1h0M510.4 58.1h0" stroke="#000000" stroke-width="2.0" stroke-linecap="round" fill="none"/>
<path d="M545.3 84.5h0M552 92.3h0M534.2 70.3h0M543.1 76.8h0M561.9 96.5h0M546 86.5h0M538.3 76.1h0M545.4 82h0M542.1 78.2h0M537.7 75.9h0M537.2 59.2h0M549.3 83.2h0M541.6 81.2h0M537.5 77.9h0M546.4 80.9h0" stroke="#008000" stroke-width="2.0" stroke-linecap="round" fill="none"/>
<path d="M525.4 68.2h0M527.1 70.6h0M522.9 71.7h0M540.6 72h0M535.1 66h0M538.5 73.3h0M525.5 73.4h0M538.5 72.7h0M530 74.3h0M539.7 72.1h0M522.4 70.7h0M529 73.9h0M540.3 75.9h0M539.4 84.5h0M522.1 69.3h0M535.8 65.2h0" stroke="#ff0000" stroke-width="2.0" stroke-linecap="round" fill="none"/>
<path d="M515.8 63.5h0M515.5 63.1h0M510.3 65.2h0M515.5 58.9h0M518.7 69.9h0M511.8 67.8h0M514.8 69.7h0M522.9 65.2h0M511.1 69.6h0M519.4 62.9h0M505 53.3h0M515 68.8h0M518.7 65.3h0M505.9 62.1h0M521.1 68.8h0M515.3 61.8h0" stroke="#0000ff" stroke-width="2.0" stroke-linecap="round" fill="none"/>
<path d="M518.2 60h0M523.1 65.2h0M526.2 64.1h0M528.7 64.4h0M524.2 62.9h0M525 60h0" stroke="#000000" stroke-width="2.0" stroke-linecap="round" fill="none"/>
<path d="M545 76.7h0M550.3 86.5h0M548.6 81.2h0M545.3 78.1h0M536 78.7h0M526.4 57.2h0M551.7 89.8h0M544.1 81.6h0M542.9 79.3h0M536.3 72.7h0M552.8 88.3h0M536.9 82.2h0M547.3 81.7h0M537.2 75.8h0M540.6 75.1h0" stroke="#008000" stroke-width="2.0" stroke-linecap="round" fill="none"/>
<path d="M528.5 69.7h0M528.5 70.7h0M533 71h0M528.8 66.6h0M533.3 75.5h0M522.3 75.7h0M527.4 69.4h0M533.1 68.3h0M518.5 71.7h0M519.1 61h0M522.9 70.6h0M523.2 65.2h0M526.4 75.5h0M535.9 76.7h0M538.4 70.1h0M527.9 76.2h0" stroke="#ff0000" stroke-width="2.0" stroke-linecap="round" fill="none"/>
<path d="M519.2 69.3h0M514.9 62.5h0M524.4 62.5h0M510.7 63.3h0M513.2 65.9h0M518.7 72.8h0M521.9 68.1h0M523.9 66.6h0M523.2 63.5h0M508 70.8h0M507.3 68.1h0M515.3 65h0M512 61.7h0M514.9 67h0M522.4 70.6h0M519.6 69.8h0" stroke="#0000ff" stroke-width="2.0" stroke-linecap="round" fill="none"/>
<path d="M519.3 61.4h0M515.3 66.4h0M533.2 53.6h0M524.7 62.3h0M523.2 58.2h0" stroke="#000000" stroke-width="2.0" stroke-linecap="round" fill="none"/>
<path d="M479.9 68V80.6M476.7 68H483.1M476.7 80.6H483.1" stroke="#ff0000" stroke-width="1.4" fill="none"/>
<path d="M483.3 70.4V85.7M480.1 70.4H486.5M480.1 85.7H486.5" stroke="#008000" stroke-width="1.4" fill="none"/>
<path d="M486.3 60.7V73M483.1 60.7H489.5M483.1 73H489.5" stroke="#0000ff" stroke-width="1.4" fill="none"/>
<path d="M506.5 103.5H526.8M506.5 100.3V106.7M526.8 100.3V106.7" stroke="#0000ff" stroke-width="1.4" fill="none"/>
<path d="M534.3 106.3H553.8M534.3 103.1V109.5M553.8 103.1V109.5" stroke="#008000" stroke-width="1.4" fill="none"/>
<path d="M523.4 109.1H541.1M523.4 105.9V112.3M541.1 105.9V112.3" stroke="#ff0000" stroke-width="1.4" fill="none"/>
<rect x="477.4" y="21.7" width="96.9" height="90.3" fill="none" stroke="#4d4d4d" stroke-width="1.1"/>
<path d="M477.4 95.5h-2.9M556.5 112v2.7M477.4 66.5h-2.9M525.5 112v2.7M477.4 38.5h-2.9M495.5 112v2.7" stroke="#222" stroke-width="1" fill="none"/>
<g class="tl"><text x="471.8" y="41.6" text-anchor="end">5</text><text x="495.4" y="122.7" text-anchor="middle">5</text><text x="471.8" y="69.8" text-anchor="end">0</text><text x="525.8" y="122.7" text-anchor="middle">0</text><text x="471.8" y="98" text-anchor="end" textLength="7.6" lengthAdjust="spacingAndGlyphs">−5</text><text x="556.1" y="122.7" text-anchor="middle" textLength="10" lengthAdjust="spacingAndGlyphs">−5</text></g>
<text class="pl" x="546.1" y="33.2" textLength="22.6" lengthAdjust="spacingAndGlyphs">India</text>
<rect x="397.3" y="129.3" width="20.5" height="90" fill="#bebebe" fill-opacity="0.585"/>
<rect x="359.9" y="164.3" width="97.3" height="18.6" fill="#bebebe" fill-opacity="0.585"/>
<path d="M359.9 174H457.2M408.4 129.3V219.3" stroke="#111" stroke-width="1.5" stroke-dasharray="3.8 1.9" fill="none"/>
<path d="M421.1 192.1h0M408.2 176h0M410.2 192.5h0M421.7 184.8h0M420.4 187.3h0M421.7 195.7h0M424.6 182.2h0M403.2 176.4h0M414.6 179.6h0M427.5 196.6h0M415.2 181.8h0M419.8 178.1h0M420.1 190.1h0M406.4 175.7h0" stroke="#008000" stroke-width="2.0" stroke-linecap="round" fill="none"/>
<path d="M411.8 184.4h0M411.6 178.6h0M418.8 184.6h0M413.8 171.7h0M401.8 170.6h0M413.3 182.9h0M418.9 175.8h0M414 190h0M420.6 181.5h0M409.8 180.2h0M420.2 181.9h0M423.1 192.8h0M409.5 177h0M417.1 175.4h0M416.4 192.9h0" stroke="#ff0000" stroke-width="2.0" stroke-linecap="round" fill="none"/>
<path d="M422.6 196.4h0" stroke="#ff0000" stroke-width="2.0" stroke-linecap="round" fill="none"/>
<path d="M436.8 198.7h0" stroke="#ff0000" stroke-width="2.0" stroke-linecap="round" fill="none"/>
<path d="M407.7 172.1h0M410.4 178.7h0M408.6 173.3h0M403.9 168.8h0M408.3 181h0M411 183.7h0M407.8 176h0M402.4 167.7h0M396.9 172.1h0M411.7 182.4h0M413 172.3h0M398.5 165.2h0M420.1 169.4h0M412.3 176.8h0M415.1 180.4h0M414.1 175.6h0M421.2 183.1h0" stroke="#0000ff" stroke-width="2.0" stroke-linecap="round" fill="none"/>
<path d="M404.1 177h0M403 168.4h0M393.4 165.5h0M401.5 165.8h0M394 166.7h0M396.2 161.2h0M408.3 173.8h0" stroke="#000000" stroke-width="2.0" stroke-linecap="round" fill="none"/>
<path d="M417.4 184.7h0M425.9 184.2h0M419.2 180.2h0M422.4 191.5h0M420.9 186.3h0M419.6 184.9h0M425.8 191.2h0M417.7 183.7h0M416.1 186.3h0M418.6 186.2h0M407.2 173.9h0M418.3 182.7h0M420.1 186h0M408.6 177.4h0" stroke="#008000" stroke-width="2.0" stroke-linecap="round" fill="none"/>
<path d="M423.6 190h0M410.6 174.6h0M405.2 178.2h0M411.1 174.8h0M414.8 180h0M418.2 178h0M415.5 186.4h0M421.8 181.7h0M412.3 176.5h0M416.4 181.3h0M417.7 174.3h0M427.3 194.6h0M413.6 177.5h0M419.8 173.3h0M410.4 175.1h0" stroke="#ff0000" stroke-width="2.0" stroke-linecap="round" fill="none"/>
<path d="" stroke="#ff0000" stroke-width="2.0" stroke-linecap="round" fill="none"/>
<path d="" stroke="#ff0000" stroke-width="2.0" stroke-linecap="round" fill="none"/>
<path d="M407.5 166.1h0M406.6 175.4h0M401.2 167.4h0M405.7 172.4h0M392 163.4h0M414.8 175.8h0M396.7 170.6h0M409.6 175.4h0M400.1 172.8h0M413.5 172.4h0M412.5 181.2h0M405.8 172.2h0M404.3 170.8h0M403 168.1h0M402.4 171.2h0M419.7 178.9h0M413.6 182.4h0" stroke="#0000ff" stroke-width="2.0" stroke-linecap="round" fill="none"/>
<path d="M409.4 169.9h0M399.1 169.8h0M395.2 169h0M398.7 170.5h0M404.2 170.2h0M405.9 166h0M396.7 169.4h0" stroke="#000000" stroke-width="2.0" stroke-linecap="round" fill="none"/>
<path d="M402.9 168.6h0M413.3 189.2h0M420.1 184.2h0M411.8 180.4h0M421 184h0M410.2 179.2h0M408.4 182.5h0M411.3 180h0M423.2 186.9h0M417.5 178.7h0M420.3 179.9h0M422.7 185.7h0M413 191.5h0" stroke="#008000" stroke-width="2.0" stroke-linecap="round" fill="none"/>
<path d="M413.7 173.3h0M402.5 171h0M413.6 180.7h0M410.9 183.9h0M403.1 182.6h0M419.7 185.7h0M415.1 189.8h0M420.3 187.1h0M409.2 177.9h0M412.5 176h0M405.2 162h0M408 177.8h0M410.2 169.1h0M407.8 183.8h0M414.1 178.3h0" stroke="#ff0000" stroke-width="2.0" stroke-linecap="round" fill="none"/>
<path d="" stroke="#ff0000" stroke-width="2.0" stroke-linecap="round" fill="none"/>
<path d="" stroke="#ff0000" stroke-width="2.0" stroke-linecap="round" fill="none"/>
<path d="M416.7 183.8h0M419.5 174.7h0M401.5 165.2h0M407.6 170.7h0M409.2 185.9h0M424.1 183.1h0M414.2 178.5h0M407.2 178.3h0M406 179.1h0M406.3 174.5h0M410 171.4h0M405.1 174.5h0M413.6 172.2h0M410.7 172.3h0M422.3 180.1h0M411.6 179.3h0M410.9 175.1h0" stroke="#0000ff" stroke-width="2.0" stroke-linecap="round" fill="none"/>
<path d="M397.7 170h0M396.9 170.7h0M400.1 160.5h0M398.4 169.1h0M397.1 166h0M406.1 167.3h0M401.8 174.1h0" stroke="#000000" stroke-width="2.0" stroke-linecap="round" fill="none"/>
<path d="M432.1 187.1h0M423.9 191.6h0M416.5 182.3h0M425.1 197.6h0M418.6 188.6h0M425.8 183.3h0M425.9 187.4h0M414.2 176.1h0M415.8 182.3h0M416.7 181.8h0M407.5 177.2h0M413.8 184.7h0M418.6 183.4h0" stroke="#008000" stroke-width="2.0" stroke-linecap="round" fill="none"/>
<path d="M408.9 175.9h0M423.4 188.7h0M416.9 182.3h0M403 171.5h0M415.3 176.4h0M409.7 172.2h0M414.2 184.4h0M416.2 182.7h0M415.3 191.5h0M415.6 174.6h0M428.6 182.3h0M414.7 173.5h0M408.5 177.1h0M413.1 185.5h0M406 173.9h0" stroke="#ff0000" stroke-width="2.0" stroke-linecap="round" fill="none"/>
<path d="" stroke="#ff0000" stroke-width="2.0" stroke-linecap="round" fill="none"/>
<path d="" stroke="#ff0000" stroke-width="2.0" stroke-linecap="round" fill="none"/>
<path d="M404.9 182.8h0M408.9 174h0M407 174.4h0M416.8 182.9h0M412.9 171h0M411.7 171.3h0M407.8 176.6h0M410.2 178.4h0M411.1 173.3h0M416.8 184.6h0M406.4 180.8h0M409 173.3h0M415.1 182.8h0M417.7 178.2h0M411.5 178.3h0M413.9 182.1h0M414.5 173.7h0" stroke="#0000ff" stroke-width="2.0" stroke-linecap="round" fill="none"/>
<path d="M399.1 164.4h0M401.6 165.6h0M401.7 170.8h0M406.9 165.9h0M398.7 169.3h0M403.5 166.7h0M408.9 170.4h0" stroke="#000000" stroke-width="2.0" stroke-linecap="round" fill="none"/>
<path d="M414.4 182.4h0M404 171.6h0M421.7 188.2h0M415.5 186.3h0M415.7 186.1h0M419.9 188h0M432.5 191.3h0M418.5 178.4h0M420.8 189.8h0M418.1 177h0M412.4 181.7h0M422.6 191.5h0M416.1 182.2h0" stroke="#008000" stroke-width="2.0" stroke-linecap="round" fill="none"/>
<path d="M400.7 169.3h0M418.9 178.8h0M410.4 179.5h0M402.8 164.9h0M423 190.9h0M421 183.9h0M424.8 187.5h0M421.1 189h0M418.8 189.6h0M417.4 182.7h0M413 187.2h0M399.7 180.7h0M424.3 194.5h0M415.4 173.7h0M415.3 183.4h0" stroke="#ff0000" stroke-width="2.0" stroke-linecap="round" fill="none"/>
<path d="" stroke="#ff0000" stroke-width="2.0" stroke-linecap="round" fill="none"/>
<path d="" stroke="#ff0000" stroke-width="2.0" stroke-linecap="round" fill="none"/>
<path d="M406.7 176.9h0M411.8 168.8h0M409.2 175.6h0M407.5 173.6h0M413 176.5h0M414.2 182.6h0M415.5 183.7h0M411.5 179.1h0M413.6 180.9h0M405.3 178.9h0M408 170.1h0M404.8 175.8h0M405.1 173.8h0M415.4 186h0M409 174.3h0M414.1 180.4h0" stroke="#0000ff" stroke-width="2.0" stroke-linecap="round" fill="none"/>
<path d="M392.3 170h0M405.9 171.5h0M404.1 166h0M398.5 165.4h0M399.9 170.8h0M399.8 168.5h0" stroke="#000000" stroke-width="2.0" stroke-linecap="round" fill="none"/>
<path d="M417.2 191.3h0M420.9 184.9h0M411.7 178.1h0M417.8 176.8h0M410.2 173.6h0M423.1 182.8h0M416.9 188.8h0M429.8 187.4h0M420.1 175.7h0M414.9 184.2h0M414.2 183.9h0M422.6 190.1h0M422.1 181.9h0" stroke="#008000" stroke-width="2.0" stroke-linecap="round" fill="none"/>
<path d="M412.2 182h0M425.1 185.1h0M411.3 178.1h0M416.8 170.1h0M408.5 181.9h0M412.5 182.3h0M420.3 194.8h0M408.3 177.9h0M417.6 190.3h0M413.8 181.6h0M406.7 182.8h0M410.7 177.1h0M424.3 191.3h0M412.1 176.4h0M406.8 173.4h0" stroke="#ff0000" stroke-width="2.0" stroke-linecap="round" fill="none"/>
<path d="" stroke="#ff0000" stroke-width="2.0" stroke-linecap="round" fill="none"/>
<path d="" stroke="#ff0000" stroke-width="2.0" stroke-linecap="round" fill="none"/>
<path d="M405.8 179.2h0M414.3 176.4h0M418.3 186.1h0M404.1 178.8h0M401 166.4h0M412.9 179.8h0M410 174.5h0M407.3 177h0M409 176.6h0M408.1 175.3h0M414.6 173.1h0M411.3 182.6h0M408.7 172.3h0M403.6 172.3h0M404.6 177.6h0M412.8 181.1h0" stroke="#0000ff" stroke-width="2.0" stroke-linecap="round" fill="none"/>
<path d="M404 172.6h0M404 169.1h0M407.1 167h0M399.1 168.5h0M397.4 171.9h0M401.9 167.7h0" stroke="#000000" stroke-width="2.0" stroke-linecap="round" fill="none"/>
<path d="M362.5 169.6V190.3M359.3 169.6H365.7M359.3 190.3H365.7" stroke="#ff0000" stroke-width="1.4" fill="none"/>
<path d="M365.6 169.9V190.3M362.4 169.9H368.8M362.4 190.3H368.8" stroke="#008000" stroke-width="1.4" fill="none"/>
<path d="M368.7 167.9V186.1M365.5 167.9H371.9M365.5 186.1H371.9" stroke="#0000ff" stroke-width="1.4" fill="none"/>
<path d="M402.3 210.4H420.2M402.3 207.2V213.6M420.2 207.2V213.6" stroke="#0000ff" stroke-width="1.4" fill="none"/>
<path d="M407.9 213.2H427.7M407.9 210V216.4M427.7 210V216.4" stroke="#008000" stroke-width="1.4" fill="none"/>
<path d="M405.8 216.2H429.2M405.8 213V219.4M429.2 213V219.4" stroke="#ff0000" stroke-width="1.4" fill="none"/>
<rect x="359.9" y="129.3" width="97.3" height="90" fill="none" stroke="#4d4d4d" stroke-width="1.1"/>
<path d="M359.9 202.5h-2.9M438.5 219.3v2.7M359.9 174.5h-2.9M408.5 219.3v2.7M359.9 145.5h-2.9M378.5 219.3v2.7" stroke="#222" stroke-width="1" fill="none"/>
<g class="tl"><text x="354.3" y="148.8" text-anchor="end">5</text><text x="378" y="230" text-anchor="middle">5</text><text x="354.3" y="177" text-anchor="end">0</text><text x="408.4" y="230" text-anchor="middle">0</text><text x="354.3" y="205.2" text-anchor="end" textLength="7.6" lengthAdjust="spacingAndGlyphs">−5</text><text x="438.8" y="230" text-anchor="middle" textLength="10" lengthAdjust="spacingAndGlyphs">−5</text></g>
<text class="pl" x="408.6" y="140.8" textLength="43" lengthAdjust="spacingAndGlyphs">East Asia</text>
<rect x="516.1" y="129.3" width="19.2" height="90" fill="#bebebe" fill-opacity="0.585"/>
<rect x="477.4" y="166" width="96.9" height="17.1" fill="#bebebe" fill-opacity="0.585"/>
<path d="M477.4 174H574.3M525.8 129.3V219.3" stroke="#111" stroke-width="1.5" stroke-dasharray="3.8 1.9" fill="none"/>
<path d="M513.8 175h0M525.2 187h0M527.5 175.9h0M522.5 180.3h0M524 172.3h0M530.2 184.8h0M528 182h0M524.5 182.9h0M518.6 171.2h0M527.3 180.9h0M518.1 181.2h0M523.8 179.1h0M524.6 180.4h0M525.4 174.4h0M522.1 186.6h0" stroke="#0000ff" stroke-width="2.0" stroke-linecap="round" fill="none"/>
<path d="M562.3 207.5h0M561.8 205.8h0M562.7 200h0M564.5 206.8h0M553.3 202.7h0M557.2 210.5h0M558.3 209.6h0M555 204.2h0M556.7 202.3h0M558.5 207.5h0M549.7 197.3h0M562.6 209.6h0M550.3 200.5h0M552.5 201h0M560.9 205.1h0" stroke="#008000" stroke-width="2.0" stroke-linecap="round" fill="none"/>
<path d="M545.6 193.8h0M538.3 192.9h0M548.1 194.7h0M537.4 194.1h0M544.5 191.1h0M541.3 195.3h0M541.8 199.2h0M531.6 183.7h0M544.4 201.4h0M549.4 198.2h0M533.1 190.5h0M542 200.6h0M563.9 213.5h0M543.2 197.1h0M532.5 186.8h0M538.8 195.3h0M537.8 192.3h0" stroke="#ff0000" stroke-width="2.0" stroke-linecap="round" fill="none"/>
<path d="M525.9 167.3h0M526.6 171.1h0M514.2 165.5h0M519.7 175.4h0M524.7 178.5h0M527.2 165h0M520.4 170h0M527.7 165.2h0M527.2 162.7h0M524.5 171.5h0M521.1 164.8h0M528.6 174.8h0M523.3 165h0M531.2 174.2h0" stroke="#000000" stroke-width="2.0" stroke-linecap="round" fill="none"/>
<path d="M511.3 176h0M524.5 180.1h0M520.7 176h0M522.5 179.8h0M523 174.5h0M528.9 180.6h0M519.9 180.1h0M511.7 171.2h0M517.4 175.5h0M515 169.4h0M531.1 181.6h0M531.9 183.2h0M517.8 172.1h0M519.9 171.7h0M522.9 180.5h0" stroke="#0000ff" stroke-width="2.0" stroke-linecap="round" fill="none"/>
<path d="M554.5 200.6h0M564.2 208h0M554.7 203.3h0M550.9 196.8h0M552.8 196.2h0M561.6 211h0M555.8 202.5h0M558 200.6h0M561.7 202.4h0M569.1 210.6h0M557.6 203.1h0M560.1 206.1h0M550.8 198.1h0M561.3 204h0M551.5 192.5h0" stroke="#008000" stroke-width="2.0" stroke-linecap="round" fill="none"/>
<path d="M539.6 192.8h0M548.5 199.6h0M541.4 191.8h0M539.8 194.5h0M542.9 191.7h0M533 189.7h0M545.8 197.3h0M545 193.8h0M541.7 199.5h0M546.6 190.5h0M533 194.4h0M537 193.4h0M549.9 206.3h0M537.8 188.5h0M540.5 188.4h0M546 185.2h0M540 192.3h0" stroke="#ff0000" stroke-width="2.0" stroke-linecap="round" fill="none"/>
<path d="M523.9 168.7h0M526.3 167.2h0M522.2 164.4h0M517.8 164.4h0M522 170.6h0M533.3 178.2h0M516.3 166.5h0M517.4 172.3h0M527.4 171h0M526.2 174.5h0M531.3 165.8h0M522.3 166.7h0M525.4 165h0M518.6 163.2h0" stroke="#000000" stroke-width="2.0" stroke-linecap="round" fill="none"/>
<path d="M520.3 178.5h0M512.4 173.5h0M526.7 179.1h0M535.3 179.3h0M527.3 179.6h0M518.9 186.2h0M522.3 180.1h0M517.2 171.2h0M520.1 181.4h0M528.9 173.8h0M537.7 187.9h0M527.7 182.2h0M518.8 175.7h0M527.9 178.4h0M521.2 178.4h0" stroke="#0000ff" stroke-width="2.0" stroke-linecap="round" fill="none"/>
<path d="M560.5 195.8h0M560.2 195.3h0M566.2 211.5h0M557.5 207h0M551.9 202.9h0M561.6 201.5h0M566.7 208.8h0M564.3 204h0M554.2 200.4h0M561.4 206.1h0M555.3 208.8h0M559.7 200.8h0M565.2 210.7h0M559.7 197.3h0M564.4 209.2h0" stroke="#008000" stroke-width="2.0" stroke-linecap="round" fill="none"/>
<path d="M538.2 191.9h0M535.1 184.2h0M547.1 188h0M538.5 187.8h0M539.8 196.2h0M552.2 202.9h0M533.5 181.2h0M529 182.7h0M536.7 193.4h0M540.4 197.6h0M533.1 188.1h0M543 194.2h0M538.8 193.1h0M542.1 192.9h0M547.8 195.2h0M552.7 197.4h0M541.9 196.3h0" stroke="#ff0000" stroke-width="2.0" stroke-linecap="round" fill="none"/>
<path d="M519.3 169.5h0M521.3 166.8h0M515.5 170.8h0M524.2 167.6h0M528.7 170h0M529.8 170.5h0M527 169.1h0M519.5 167.1h0M519 174.4h0M519.6 171.2h0M525.5 167.5h0M532.3 170.3h0M520.4 174.1h0" stroke="#000000" stroke-width="2.0" stroke-linecap="round" fill="none"/>
<path d="M521.7 180.4h0M527.3 181.6h0M522 174.7h0M520.7 179.1h0M530.9 186.9h0M512.5 176.2h0M518.2 180.5h0M528 180.2h0M522.8 180h0M518.8 178.1h0M523.2 175h0M523.2 179.9h0M522.8 179.8h0M524.5 178.7h0M522.2 174.9h0" stroke="#0000ff" stroke-width="2.0" stroke-linecap="round" fill="none"/>
<path d="M563.6 206h0M551.4 198.5h0M556 202.5h0M560.3 202.1h0M560.4 203.7h0M561.4 207.1h0M559.6 198.9h0M557.1 204.6h0M560 212.1h0M554.5 204.4h0M559.4 202.6h0M553.7 199.8h0M567 202.7h0M552.2 206.6h0M562.4 205.6h0" stroke="#008000" stroke-width="2.0" stroke-linecap="round" fill="none"/>
<path d="M546.7 186.3h0M548.3 197.6h0M544.1 189h0M541.1 201h0M547.3 199.2h0M531.1 190.7h0M541.9 196.6h0M533.2 189.2h0M546.3 192.5h0M546.1 199.2h0M535.2 188.7h0M560.3 198.7h0M551.8 202.6h0M546.3 197.6h0M539 187.8h0M545.2 189.8h0M539.1 190.4h0" stroke="#ff0000" stroke-width="2.0" stroke-linecap="round" fill="none"/>
<path d="M522.9 168.2h0M524.9 173.3h0M521.6 163.8h0M532.3 165.9h0M523.2 168.5h0M520.7 174.2h0M521.6 172.7h0M527.4 169.6h0M514.6 175.4h0M528 169.9h0M515.7 169.2h0M524.3 169.2h0M535.3 173.6h0" stroke="#000000" stroke-width="2.0" stroke-linecap="round" fill="none"/>
<path d="M521.6 176.9h0M523.6 185.7h0M521.9 179h0M530.3 181h0M519.2 174.3h0M532.1 179.2h0M514.7 180h0M524.8 179.5h0M524.1 180h0M521.7 173.7h0M525.4 175.9h0M522.9 179.3h0M518.8 176.1h0M519.2 169.5h0M536.1 182.4h0" stroke="#0000ff" stroke-width="2.0" stroke-linecap="round" fill="none"/>
<path d="M557.1 194.7h0M552.7 198h0M562.1 210h0M558.9 198.4h0M561.9 207.6h0M561.4 206.7h0M563 210h0M556.8 197.1h0M551.7 200.8h0M564.6 205.5h0M567.5 211.5h0M554.8 207.3h0M560.7 197.6h0M554.1 200.2h0M548.8 194h0" stroke="#008000" stroke-width="2.0" stroke-linecap="round" fill="none"/>
<path d="M542.9 191.5h0M537.9 189.6h0M546.9 204.9h0M537.1 199.9h0M542.2 194.2h0M547.4 184.1h0M537.9 187.2h0M541.3 194.1h0M543.2 192.1h0M541.6 188.6h0M536.3 188.9h0M542.7 185.6h0M542.5 196.3h0M546.7 190.8h0M536.4 201.7h0M537.2 187.1h0" stroke="#ff0000" stroke-width="2.0" stroke-linecap="round" fill="none"/>
<path d="M528.5 167.3h0M530.1 169.6h0M535.6 173h0M520.7 170.6h0M521.9 165.8h0M524.8 172.5h0M523.2 174.6h0M527.1 167.6h0M520.2 175.3h0M520.3 166.1h0M522.4 175.2h0M524 168h0M518.6 172.1h0" stroke="#000000" stroke-width="2.0" stroke-linecap="round" fill="none"/>
<path d="M519.4 181.1h0M520.5 182.1h0M525.5 185.2h0M522.2 182.7h0M515.9 175.4h0M517 170.5h0M522.2 175.6h0M532.2 187h0M522 182.2h0M528.1 189.9h0M519.8 181.6h0M519.4 174.1h0M521.3 165.7h0M523.6 181.6h0M522.4 180.8h0" stroke="#0000ff" stroke-width="2.0" stroke-linecap="round" fill="none"/>
<path d="M561.5 202.6h0M562.2 204.1h0M554 199.6h0M555.4 196.7h0M552.3 203.7h0M557.7 197.2h0M560.4 197.1h0M559.7 204.2h0M561.9 207.2h0M556.5 202.1h0M559.4 197.4h0M556.1 198h0M559.1 204.1h0M553.8 201.9h0" stroke="#008000" stroke-width="2.0" stroke-linecap="round" fill="none"/>
<path d="M536.6 190.8h0M544.8 197h0M550.4 204.3h0M561.5 203.8h0M541.9 196.1h0M539.8 194.5h0M549.6 190.9h0M547.4 195.6h0M539 191.4h0M545 189.8h0M542.6 191.9h0M541.2 191.7h0M535.5 184.3h0M535.6 189.6h0M530.1 183.4h0M545.5 200.4h0" stroke="#ff0000" stroke-width="2.0" stroke-linecap="round" fill="none"/>
<path d="M527.1 168.7h0M525.9 164.8h0M522.5 172.6h0M526.5 174.4h0M522.6 164.3h0M520.1 173.5h0M512.2 170.2h0M525 174.4h0M524.9 165.5h0M527.4 173.7h0M535.4 171.5h0M527.1 175.4h0M513.8 165.9h0" stroke="#000000" stroke-width="2.0" stroke-linecap="round" fill="none"/>
<path d="M480.2 185.6V202.2M477 185.6H483.4M477 202.2H483.4" stroke="#ff0000" stroke-width="1.4" fill="none"/>
<path d="M483.1 194.6V211.4M479.9 194.6H486.3M479.9 211.4H486.3" stroke="#008000" stroke-width="1.4" fill="none"/>
<path d="M486.6 171V185.6M483.4 171H489.8M483.4 185.6H489.8" stroke="#0000ff" stroke-width="1.4" fill="none"/>
<path d="M515.9 211.1H533.6M515.9 207.9V214.3M533.6 207.9V214.3" stroke="#0000ff" stroke-width="1.4" fill="none"/>
<path d="M550.2 213H566.8M550.2 209.8V216.2M566.8 209.8V216.2" stroke="#008000" stroke-width="1.4" fill="none"/>
<path d="M532.5 215.6H551.5M532.5 212.4V218.8M551.5 212.4V218.8" stroke="#ff0000" stroke-width="1.4" fill="none"/>
<rect x="477.4" y="129.3" width="96.9" height="90" fill="none" stroke="#4d4d4d" stroke-width="1.1"/>
<path d="M477.4 202.5h-2.9M556.5 219.3v2.7M477.4 174.5h-2.9M525.5 219.3v2.7M477.4 145.5h-2.9M495.5 219.3v2.7" stroke="#222" stroke-width="1" fill="none"/>
<g class="tl"><text x="471.8" y="148.8" text-anchor="end">5</text><text x="495.4" y="230" text-anchor="middle">5</text><text x="471.8" y="177" text-anchor="end">0</text><text x="525.8" y="230" text-anchor="middle">0</text><text x="471.8" y="205.2" text-anchor="end" textLength="7.6" lengthAdjust="spacingAndGlyphs">−5</text><text x="556.1" y="230" text-anchor="middle" textLength="10" lengthAdjust="spacingAndGlyphs">−5</text></g>
<text class="pl" x="528.2" y="140.8" textLength="40.5" lengthAdjust="spacingAndGlyphs">West Afr.</text>
<rect x="398.1" y="236.2" width="20.9" height="90.1" fill="#bebebe" fill-opacity="0.585"/>
<rect x="359.9" y="269.8" width="97.3" height="18" fill="#bebebe" fill-opacity="0.585"/>
<path d="M359.9 280.6H457.2M408.4 236.2V326.3" stroke="#111" stroke-width="1.5" stroke-dasharray="3.8 1.9" fill="none"/>
<path d="M432.9 313.6h0M422.3 282.1h0M423.9 288.1h0M426.4 295.8h0M429.4 289.6h0M429.7 294.8h0M430.5 293h0M432.9 296.4h0M425.5 302.7h0M429.2 303.7h0" stroke="#008000" stroke-width="2.0" stroke-linecap="round" fill="none"/>
<path d="M442.3 316.5h0M430.2 311.6h0M426.6 312.6h0M423.4 309.1h0M433.5 305.6h0M431.4 311h0M439.6 304.1h0M425.4 306.9h0M424.1 312.7h0M431.1 306.9h0M432.9 305h0M428.1 313.1h0M437 307.8h0M423.5 306.1h0M430.3 306.7h0" stroke="#ff0000" stroke-width="2.0" stroke-linecap="round" fill="none"/>
<path d="M420.2 305.3h0M419.1 302.3h0M414.8 303.1h0M424 302.3h0M427 307.2h0M425.8 291.3h0M430.4 302.9h0M427.1 301.1h0M423.6 306.6h0M431.6 300.6h0M420 297.5h0M416.8 306.6h0M425.9 297.6h0M423.8 307.6h0M423.9 303.1h0" stroke="#0000ff" stroke-width="2.0" stroke-linecap="round" fill="none"/>
<path d="M407.7 278.9h0M407.1 292.1h0M402 273.4h0M402 276.6h0M414.4 279.6h0M399.6 278.3h0M403.9 281.1h0M410.3 282.4h0M410.9 286.5h0M397.1 292.4h0M400.6 273.5h0M402.8 278.6h0M404 283.9h0M401.7 286.9h0M405.4 275.9h0" stroke="#000000" stroke-width="2.0" stroke-linecap="round" fill="none"/>
<path d="M429.3 299.6h0M436.9 301.1h0M424.6 299.7h0M433.3 296.7h0M429 288.3h0M435 296.5h0M437.8 302.5h0M434.9 294.1h0M424.6 290.7h0M434.3 302h0" stroke="#008000" stroke-width="2.0" stroke-linecap="round" fill="none"/>
<path d="M426.7 305.6h0M434 309.7h0M432.8 304.4h0M426.1 297.9h0M434.8 311.8h0M435.3 302h0M430.2 303.6h0M431.4 311.5h0M431.1 312.4h0M428.3 307.1h0M430.3 308.9h0M429.3 305.3h0M429.6 305h0M430.3 303.3h0M430.1 305.1h0" stroke="#ff0000" stroke-width="2.0" stroke-linecap="round" fill="none"/>
<path d="M417.4 304.8h0M426.6 294.8h0M425.5 303h0M423.6 302.3h0M423.8 303.7h0M419.5 305h0M417.4 300.9h0M425.6 310h0M424.6 302.6h0M426.8 302.2h0M424.7 300.5h0M423.9 301.8h0M423.5 301.1h0M425.4 304.4h0M424.1 303.3h0" stroke="#0000ff" stroke-width="2.0" stroke-linecap="round" fill="none"/>
<path d="M401.3 288.9h0M409.5 270.8h0M412.7 282.1h0M397.9 278h0M406 274.7h0M403.8 273.7h0M403.1 271.5h0M398 270.1h0M397.6 280.7h0M413.2 280.5h0M408 276.7h0M404 280.7h0M398.9 277.9h0M403.2 279.5h0" stroke="#000000" stroke-width="2.0" stroke-linecap="round" fill="none"/>
<path d="M428.1 290.1h0M436.3 293.1h0M431.5 283.6h0M423.1 290.5h0M431.5 293.4h0M428.2 305.1h0M430.4 303.2h0M429.9 292.2h0M437.2 307.7h0M429.1 289.2h0" stroke="#008000" stroke-width="2.0" stroke-linecap="round" fill="none"/>
<path d="M425.9 303.2h0M436.2 303.8h0M426.8 306.7h0M429.1 307h0M432.9 306.9h0M430.5 309.8h0M435.6 302.6h0M433.1 309h0M432.2 311.3h0M424.8 313.5h0M432.1 315.4h0M429.3 306.6h0M427.6 305.5h0M427.2 309.2h0M427.3 312.4h0" stroke="#ff0000" stroke-width="2.0" stroke-linecap="round" fill="none"/>
<path d="M420.2 303.8h0M423.8 304.2h0M420.6 300.8h0M418.1 290.8h0M425.9 300.2h0M422 302.7h0M429.8 304.3h0M422.6 303h0M427.1 304.9h0M425.9 298.5h0M424.7 301.2h0M416.9 303.9h0M423.9 299.9h0M426.1 300.1h0M419.8 299.4h0" stroke="#0000ff" stroke-width="2.0" stroke-linecap="round" fill="none"/>
<path d="M403.4 283h0M403.4 286.5h0M395.4 282.2h0M396.8 278.8h0M406.2 286.8h0M408.8 281.7h0M406.3 283.8h0M412.8 279h0M404.5 276.5h0M399.8 274.7h0M404.5 280.2h0M407.9 273.4h0M394.6 276h0M398.1 275.4h0" stroke="#000000" stroke-width="2.0" stroke-linecap="round" fill="none"/>
<path d="M430.3 296.3h0M437.1 297.4h0M427.5 293.6h0M423.2 306.4h0M432.6 298.6h0M435.9 300.7h0M424.3 287.3h0M430.8 281.8h0M444.8 298.1h0M428.4 295.4h0" stroke="#008000" stroke-width="2.0" stroke-linecap="round" fill="none"/>
<path d="M434.3 303.9h0M432.8 305.3h0M431.8 305h0M436 305.9h0M424.7 310.6h0M436 313.5h0M437.3 311.6h0M429.8 307.9h0M438.7 305.6h0M433.9 315.4h0M434.7 302.7h0M438.4 303.1h0M432.4 312.8h0M424.2 304.1h0M432.7 307.3h0" stroke="#ff0000" stroke-width="2.0" stroke-linecap="round" fill="none"/>
<path d="M430.5 304.5h0M424.6 297.9h0M417.8 302.6h0M426.9 307.8h0M429.5 304.6h0M416.7 308.3h0M422.1 304.5h0M421.5 299.4h0M418.6 306.9h0M419.9 303.4h0M432.4 300.2h0M423.8 307.5h0M420.4 301.7h0M418.1 305.3h0M426.6 300.6h0" stroke="#0000ff" stroke-width="2.0" stroke-linecap="round" fill="none"/>
<path d="M407.6 285.8h0M397.4 277.2h0M410.4 274.6h0M405.8 272h0M409.7 275.8h0M397.3 272h0M399.8 284.7h0M408.9 280.3h0M406.6 271.9h0M407.8 272.4h0M407.7 287.3h0M404.9 284h0M401.9 271h0M404.3 276.4h0" stroke="#000000" stroke-width="2.0" stroke-linecap="round" fill="none"/>
<path d="M429.9 287.8h0M426.8 286.5h0M427.2 299.3h0M423.3 297.2h0M424.5 297.9h0M426.1 284.1h0M431.6 289.3h0M431 297.7h0M435.1 303.5h0M428.1 291.9h0" stroke="#008000" stroke-width="2.0" stroke-linecap="round" fill="none"/>
<path d="M427.1 306.8h0M436.5 311.1h0M434.4 302.3h0M438.6 313.6h0M433.5 302.7h0M423.1 307.6h0M434.1 299.2h0M431.2 310.8h0M432.2 307.2h0M427.9 303.2h0M436.3 302.5h0M426.2 310.2h0M436.2 305.6h0M428.8 308.1h0M436.3 304.9h0" stroke="#ff0000" stroke-width="2.0" stroke-linecap="round" fill="none"/>
<path d="M421.4 302h0M428.8 297.1h0M426.5 299.3h0M417.6 299.3h0M428.5 300.4h0M426.7 301.9h0M424.6 304.5h0M423.7 296h0M419.7 302.8h0M417 298.5h0M415.2 302.5h0M422.2 297h0M421.4 302.6h0M428.8 304.3h0M413.2 302.5h0" stroke="#0000ff" stroke-width="2.0" stroke-linecap="round" fill="none"/>
<path d="M392.5 290.9h0M404.4 291.6h0M407.7 280h0M411.7 290.1h0M402 275.7h0M413.8 280.2h0M410.7 273h0M416 270.9h0M400.2 282.3h0M416.4 279.1h0M405 272.1h0M413.2 283.9h0M409.9 273.8h0M402.6 279.2h0" stroke="#000000" stroke-width="2.0" stroke-linecap="round" fill="none"/>
<path d="M430.6 298.5h0M440.6 307.8h0M427.9 283.9h0M427.8 286.2h0M430.5 297h0M427.5 297.5h0M429.4 280.2h0M427.1 288.9h0M420.5 285.1h0M431.9 300.8h0" stroke="#008000" stroke-width="2.0" stroke-linecap="round" fill="none"/>
<path d="M435.5 306.5h0M427.1 313.2h0M431.8 307.9h0M436.8 313.2h0M432.3 310.8h0M435.1 312.8h0M428.8 310.9h0M431 312h0M432.8 301.4h0M433.1 301.2h0M432.2 302.8h0M424.5 306.4h0M428.5 310.6h0M425.5 312.2h0M434.6 307.8h0" stroke="#ff0000" stroke-width="2.0" stroke-linecap="round" fill="none"/>
<path d="M422.5 297.3h0M427.1 308.6h0M419.9 300.1h0M425.4 305.9h0M428.7 297.7h0M425.9 303.3h0M416.9 298.3h0M414.5 307.6h0M435.6 302.3h0M426.9 299.5h0M424.1 302.6h0M424.6 298.3h0M422.8 292.9h0M425.9 303.6h0M413.8 309.7h0" stroke="#0000ff" stroke-width="2.0" stroke-linecap="round" fill="none"/>
<path d="M405 270.8h0M404.5 286.4h0M403.2 274.7h0M414.7 269.9h0M410 289.7h0M409.6 275.2h0M406.3 278h0M413.2 273.3h0M411.6 274.8h0M408.8 272h0M406.2 287.2h0M411.7 276.3h0M404 276.7h0M416.1 277.5h0" stroke="#000000" stroke-width="2.0" stroke-linecap="round" fill="none"/>
<path d="M362.7 301.3V314M359.5 301.3H365.9M359.5 314H365.9" stroke="#ff0000" stroke-width="1.4" fill="none"/>
<path d="M365.6 285.3V309.7M362.4 285.3H368.8M362.4 309.7H368.8" stroke="#008000" stroke-width="1.4" fill="none"/>
<path d="M369 295.9V310.3M365.8 295.9H372.2M365.8 310.3H372.2" stroke="#0000ff" stroke-width="1.4" fill="none"/>
<path d="M418.5 317.5H431.9M418.5 314.3V320.7M431.9 314.3V320.7" stroke="#0000ff" stroke-width="1.4" fill="none"/>
<path d="M425 319.8H438.8M425 316.6V323M438.8 316.6V323" stroke="#008000" stroke-width="1.4" fill="none"/>
<path d="M424.4 322.6H438M424.4 319.4V325.8M438 319.4V325.8" stroke="#ff0000" stroke-width="1.4" fill="none"/>
<rect x="359.9" y="236.2" width="97.3" height="90.1" fill="none" stroke="#4d4d4d" stroke-width="1.1"/>
<path d="M359.9 308.5h-2.9M438.5 326.3v2.7M359.9 280.5h-2.9M408.5 326.3v2.7M359.9 252.5h-2.9M378.5 326.3v2.7" stroke="#222" stroke-width="1" fill="none"/>
<g class="tl"><text x="354.3" y="255.4" text-anchor="end">5</text><text x="378" y="337" text-anchor="middle">5</text><text x="354.3" y="283.6" text-anchor="end">0</text><text x="408.4" y="337" text-anchor="middle">0</text><text x="354.3" y="311.8" text-anchor="end" textLength="7.6" lengthAdjust="spacingAndGlyphs">−5</text><text x="438.8" y="337" text-anchor="middle" textLength="10" lengthAdjust="spacingAndGlyphs">−5</text></g>
<text class="pl" x="407.5" y="247.7" textLength="44.1" lengthAdjust="spacingAndGlyphs">Mar.Cont.</text>
<rect x="516.1" y="236.2" width="19.6" height="90.1" fill="#bebebe" fill-opacity="0.585"/>
<rect x="477.4" y="271.2" width="96.9" height="18.4" fill="#bebebe" fill-opacity="0.585"/>
<path d="M477.4 280.6H574.3M525.8 236.2V326.3" stroke="#111" stroke-width="1.5" stroke-dasharray="3.8 1.9" fill="none"/>
<path d="M508.8 276.2h0M507.8 270.9h0M505.7 269.2h0M509.1 273.9h0M507.7 275.7h0M503.7 273.9h0M506.9 275h0M506 277h0M511.7 272.8h0M510 278.6h0" stroke="#008000" stroke-width="2.0" stroke-linecap="round" fill="none"/>
<path d="M494 268h0" stroke="#008000" stroke-width="2.0" stroke-linecap="round" fill="none"/>
<path d="M500 264h0" stroke="#008000" stroke-width="2.0" stroke-linecap="round" fill="none"/>
<path d="M516.9 277.8h0M511.7 275.4h0M518.5 279.3h0M522.3 274.1h0M519 274.3h0M519.2 272.7h0M515.2 281.8h0M503.1 268.1h0M505.3 274.5h0M510.7 278.3h0M512.8 271.4h0M511.1 277.1h0M510 271.8h0M512.4 273.8h0M514 282h0M509.7 269.9h0M512.2 270.6h0" stroke="#ff0000" stroke-width="2.0" stroke-linecap="round" fill="none"/>
<path d="M518.9 286.7h0M533.4 285.7h0M516.1 272.4h0M523.4 280.8h0M517.3 275.7h0M515.7 276.2h0M516.2 276h0M508.5 276.2h0M533.3 293.5h0M531.8 283.9h0M513 277.6h0M525.4 281.2h0M514.5 276.9h0M531.3 283.3h0M504.3 267.2h0" stroke="#0000ff" stroke-width="2.0" stroke-linecap="round" fill="none"/>
<path d="M505.7 258.7h0" stroke="#0000ff" stroke-width="2.0" stroke-linecap="round" fill="none"/>
<path d="M536.7 286.5h0M526.6 282.3h0M536.3 286.4h0M532 284.7h0M524.2 283.5h0M524.7 283.2h0M533.9 286h0M532.8 284.9h0M526.4 282.4h0" stroke="#000000" stroke-width="2.0" stroke-linecap="round" fill="none"/>
<path d="M543 294.7h0" stroke="#000000" stroke-width="2.0" stroke-linecap="round" fill="none"/>
<path d="M521.6 264.7h0" stroke="#000000" stroke-width="2.0" stroke-linecap="round" fill="none"/>
<path d="M505.6 267.7h0M506.1 277.8h0M507.8 271h0M510.6 273.1h0M499.5 278.5h0M506.9 269.7h0M504.6 270.6h0M506.2 271h0M509.7 273.3h0M506.9 271.2h0" stroke="#008000" stroke-width="2.0" stroke-linecap="round" fill="none"/>
<path d="" stroke="#008000" stroke-width="2.0" stroke-linecap="round" fill="none"/>
<path d="" stroke="#008000" stroke-width="2.0" stroke-linecap="round" fill="none"/>
<path d="M513 272.5h0M519.5 276.6h0M508.8 274.5h0M517.6 275.5h0M514.7 275.2h0M518.1 275.1h0M517.2 275.2h0M501.6 274.4h0M516.5 273h0M518.4 271.2h0M519 278.1h0M505.9 275h0M514.1 273.7h0M518.5 278.1h0M520.8 282.2h0M520.2 273.2h0M514.9 281.4h0" stroke="#ff0000" stroke-width="2.0" stroke-linecap="round" fill="none"/>
<path d="M522.1 278.4h0M521.9 286.7h0M526.5 281h0M529.9 281.8h0M525.4 284.5h0M524.7 277h0M526.1 286.9h0M524.4 278.6h0M522.9 279.1h0M522.1 286.3h0M526.9 281.3h0M525.3 280h0M526.1 287.8h0M528.3 286.4h0M525.4 280.8h0" stroke="#0000ff" stroke-width="2.0" stroke-linecap="round" fill="none"/>
<path d="" stroke="#0000ff" stroke-width="2.0" stroke-linecap="round" fill="none"/>
<path d="M533.9 289.8h0M529.6 284.3h0M531.5 289.3h0M533.8 291h0M532.7 283.4h0M530.6 287.4h0M532.7 290.2h0M538.9 290.6h0M530.1 281.1h0" stroke="#000000" stroke-width="2.0" stroke-linecap="round" fill="none"/>
<path d="" stroke="#000000" stroke-width="2.0" stroke-linecap="round" fill="none"/>
<path d="" stroke="#000000" stroke-width="2.0" stroke-linecap="round" fill="none"/>
<path d="M505.7 271.9h0M513.5 277.9h0M510.8 274h0M507.6 274.5h0M505.6 272.3h0M510.7 271h0M509.2 276.8h0M502.2 276.4h0M506.8 273.5h0M511.1 272.8h0" stroke="#008000" stroke-width="2.0" stroke-linecap="round" fill="none"/>
<path d="" stroke="#008000" stroke-width="2.0" stroke-linecap="round" fill="none"/>
<path d="" stroke="#008000" stroke-width="2.0" stroke-linecap="round" fill="none"/>
<path d="M506.8 267.9h0M512.8 275h0M514.4 277.6h0M520.3 279.6h0M510.7 275.8h0M513.4 274.3h0M515.5 277.1h0M517.5 273h0M502.4 273.6h0M523.8 284.8h0M527.5 281h0M518.5 277.1h0M505.2 272.8h0M522.7 278h0M513.4 269.4h0M517.7 281.1h0M508.8 269.7h0" stroke="#ff0000" stroke-width="2.0" stroke-linecap="round" fill="none"/>
<path d="M516.5 279.7h0M518.9 277h0M516 278.6h0M526.3 284.4h0M519 283.4h0M515.8 275h0M525.2 281h0M515.7 286.2h0M521.3 283.7h0M528.9 282.6h0M505.4 273.3h0M521.7 276.3h0M507 274.3h0M515.1 271.5h0M515.2 277.3h0" stroke="#0000ff" stroke-width="2.0" stroke-linecap="round" fill="none"/>
<path d="" stroke="#0000ff" stroke-width="2.0" stroke-linecap="round" fill="none"/>
<path d="M531.7 288.9h0M531.8 285.5h0M536.3 292.3h0M525.5 284.6h0M535.8 284.7h0M529.7 287.8h0M529.7 287h0M531.9 284.4h0" stroke="#000000" stroke-width="2.0" stroke-linecap="round" fill="none"/>
<path d="" stroke="#000000" stroke-width="2.0" stroke-linecap="round" fill="none"/>
<path d="" stroke="#000000" stroke-width="2.0" stroke-linecap="round" fill="none"/>
<path d="M503 270.6h0M509 279.8h0M511.3 279.7h0M505.5 273.1h0M501.2 274h0M501.4 271.8h0M507.9 270.7h0M497.5 267.7h0M503.8 273h0M512.1 272.5h0" stroke="#008000" stroke-width="2.0" stroke-linecap="round" fill="none"/>
<path d="" stroke="#008000" stroke-width="2.0" stroke-linecap="round" fill="none"/>
<path d="" stroke="#008000" stroke-width="2.0" stroke-linecap="round" fill="none"/>
<path d="M507.7 277.1h0M509.1 272.6h0M522 277.1h0M513.3 275.3h0M508.4 270.2h0M517.4 280.1h0M515.9 273.7h0M519.9 276.2h0M524.1 277.1h0M509.5 270.9h0M518.5 278.3h0M518.6 284.6h0M514.8 276h0M518 272.5h0M514.9 274.5h0M514.7 271.6h0M504.2 271.3h0" stroke="#ff0000" stroke-width="2.0" stroke-linecap="round" fill="none"/>
<path d="M511.4 276h0M515.3 275.1h0M526.5 280h0M514.4 279.1h0M521.8 285.3h0M525.5 272.1h0M514.9 280.6h0M531.5 280.9h0M516.8 269.2h0M528.5 281.6h0M526.3 284.8h0M524.3 279.8h0M526.6 288.8h0M519 278.5h0M533.8 287.2h0" stroke="#0000ff" stroke-width="2.0" stroke-linecap="round" fill="none"/>
<path d="" stroke="#0000ff" stroke-width="2.0" stroke-linecap="round" fill="none"/>
<path d="M528.8 283.8h0M532.8 280.7h0M535.1 284.7h0M530.9 288h0M532.5 291.4h0M531.3 287.7h0M534.3 284.6h0M532.8 285.2h0" stroke="#000000" stroke-width="2.0" stroke-linecap="round" fill="none"/>
<path d="" stroke="#000000" stroke-width="2.0" stroke-linecap="round" fill="none"/>
<path d="" stroke="#000000" stroke-width="2.0" stroke-linecap="round" fill="none"/>
<path d="M508.8 275.9h0M506.5 273.3h0M499.5 271.7h0M501.5 271.1h0M503.2 273.7h0M497.4 269.2h0M503.7 268.6h0M508.7 274.2h0M512.4 280h0M502.9 270.4h0" stroke="#008000" stroke-width="2.0" stroke-linecap="round" fill="none"/>
<path d="" stroke="#008000" stroke-width="2.0" stroke-linecap="round" fill="none"/>
<path d="" stroke="#008000" stroke-width="2.0" stroke-linecap="round" fill="none"/>
<path d="M522.1 275.3h0M515.2 273.4h0M514.8 273.5h0M516.4 276.9h0M509.2 274h0M523.3 281.9h0M502.3 265.6h0M517.4 277.4h0M522.7 281.5h0M509.7 272.6h0M508.3 276.5h0M517.3 278h0M522.8 278.8h0M515.1 273.3h0M511.6 272.6h0M515.2 269.1h0" stroke="#ff0000" stroke-width="2.0" stroke-linecap="round" fill="none"/>
<path d="M524.3 279.5h0M522.3 278.6h0M517.3 279.5h0M529.5 279.8h0M537.8 291h0M527.6 283.7h0M525.8 280.8h0M523.5 276.1h0M532.5 288h0M512.6 276h0M514.5 269.1h0M526.3 285.7h0M510 269.4h0M528.3 283.3h0M519.2 274.8h0" stroke="#0000ff" stroke-width="2.0" stroke-linecap="round" fill="none"/>
<path d="" stroke="#0000ff" stroke-width="2.0" stroke-linecap="round" fill="none"/>
<path d="M527.8 285.6h0M536.4 287.2h0M534.8 291.4h0M530.7 288.5h0M527.8 286.1h0M536.5 289.6h0M530.8 289.2h0M527.5 283.1h0" stroke="#000000" stroke-width="2.0" stroke-linecap="round" fill="none"/>
<path d="" stroke="#000000" stroke-width="2.0" stroke-linecap="round" fill="none"/>
<path d="" stroke="#000000" stroke-width="2.0" stroke-linecap="round" fill="none"/>
<path d="M505.6 264.1h0M510.6 274.9h0M502.8 274.8h0M500.5 270.7h0M502.2 270.7h0M506.5 269.3h0M508.9 276.1h0M515.2 282.3h0M510.9 268.8h0M500.6 268.8h0" stroke="#008000" stroke-width="2.0" stroke-linecap="round" fill="none"/>
<path d="" stroke="#008000" stroke-width="2.0" stroke-linecap="round" fill="none"/>
<path d="" stroke="#008000" stroke-width="2.0" stroke-linecap="round" fill="none"/>
<path d="M518.3 278.7h0M509.6 273.4h0M506.6 277.7h0M513.6 274.4h0M512 274h0M512.9 272.6h0M519.6 279.6h0M507.3 273.3h0M513.5 274.5h0M516.1 277.4h0M516.6 273.6h0M521.5 285.6h0M513.7 276h0M520.3 282h0M503.4 273.8h0M521.7 280.3h0" stroke="#ff0000" stroke-width="2.0" stroke-linecap="round" fill="none"/>
<path d="M515 279.5h0M520.6 273h0M525.6 279.1h0M535.4 284.2h0M508 269.2h0M521.4 280.8h0M511 269.4h0M511.6 273.9h0M531 286.8h0M528.7 287.8h0M526.5 286.2h0M513.8 282.1h0M522.2 278.3h0M530.4 279h0M533.9 287.5h0" stroke="#0000ff" stroke-width="2.0" stroke-linecap="round" fill="none"/>
<path d="" stroke="#0000ff" stroke-width="2.0" stroke-linecap="round" fill="none"/>
<path d="M527.8 284.5h0M531.1 283.2h0M533.4 289.4h0M534.1 290.1h0M532.1 288.1h0M534.9 288.7h0M531.4 280.8h0M526.1 286.1h0" stroke="#000000" stroke-width="2.0" stroke-linecap="round" fill="none"/>
<path d="" stroke="#000000" stroke-width="2.0" stroke-linecap="round" fill="none"/>
<path d="" stroke="#000000" stroke-width="2.0" stroke-linecap="round" fill="none"/>
<path d="M480.3 268.8V284.2M477.1 268.8H483.5M477.1 284.2H483.5" stroke="#ff0000" stroke-width="1.4" fill="none"/>
<path d="M483.3 268.4V281.9M480.1 268.4H486.5M480.1 281.9H486.5" stroke="#008000" stroke-width="1.4" fill="none"/>
<path d="M486.1 270.1V287.2M482.9 270.1H489.3M482.9 287.2H489.3" stroke="#0000ff" stroke-width="1.4" fill="none"/>
<path d="M513 317.4H532.6M513 314.2V320.6M532.6 314.2V320.6" stroke="#0000ff" stroke-width="1.4" fill="none"/>
<path d="M498.9 320.3H522M498.9 317.1V323.5M522 317.1V323.5" stroke="#008000" stroke-width="1.4" fill="none"/>
<path d="M506 323.2H525.9M506 320V326.4M525.9 320V326.4" stroke="#ff0000" stroke-width="1.4" fill="none"/>
<rect x="477.4" y="236.2" width="96.9" height="90.1" fill="none" stroke="#4d4d4d" stroke-width="1.1"/>
<path d="M477.4 308.5h-2.9M556.5 326.3v2.7M477.4 280.5h-2.9M525.5 326.3v2.7M477.4 252.5h-2.9M495.5 326.3v2.7" stroke="#222" stroke-width="1" fill="none"/>
<g class="tl"><text x="471.8" y="255.4" text-anchor="end">5</text><text x="495.4" y="337" text-anchor="middle">5</text><text x="471.8" y="283.6" text-anchor="end">0</text><text x="525.8" y="337" text-anchor="middle">0</text><text x="471.8" y="311.8" text-anchor="end" textLength="7.6" lengthAdjust="spacingAndGlyphs">−5</text><text x="556.1" y="337" text-anchor="middle" textLength="10" lengthAdjust="spacingAndGlyphs">−5</text></g>
<text class="pl" x="527.3" y="247.7" textLength="41.4" lengthAdjust="spacingAndGlyphs">Mid. East</text>
<text class="t" x="76.5" y="7.8" textLength="102.3" lengthAdjust="spacingAndGlyphs">Temperature indices</text>
<text class="t" x="419" y="7.8" textLength="102" lengthAdjust="spacingAndGlyphs">Precipitation indices</text>
<text class="ax" x="72.4" y="351.7" textLength="135" lengthAdjust="spacingAndGlyphs">Tn3d (normalised to EVA0)</text>
<text class="ax" x="413.4" y="351.7" textLength="124.2" lengthAdjust="spacingAndGlyphs">TP (normalised to EVA0)</text>
<text class="ax" transform="translate(8.2 247) rotate(-90)" textLength="131.3" lengthAdjust="spacingAndGlyphs">Tx3d (nomalised to EVA0)</text>
<text class="ax" transform="translate(335.0 234.5) rotate(-90)" textLength="134.6" lengthAdjust="spacingAndGlyphs">Rx5d (normalised to EVA0)</text>
<rect x="248.8" y="31.8" width="92.4" height="50.5" rx="2" fill="#fff" stroke="#d0d0d0" stroke-width="0.9"/>
<path d="M259.8 41.4h7.5" stroke="#ff0000" stroke-width="1.4"/>
<path d="M259.8 57h7.5" stroke="#008000" stroke-width="1.4"/>
<path d="M259.8 72.9h7.5" stroke="#0000ff" stroke-width="1.4"/>
<text class="lg" x="282.9" y="44.9" textLength="33.1" lengthAdjust="spacingAndGlyphs">EVA40</text>
<text class="lg" x="282.9" y="60.5" textLength="53.4" lengthAdjust="spacingAndGlyphs">EVA40_NH</text>
<text class="lg" x="282.9" y="75.8" textLength="52.4" lengthAdjust="spacingAndGlyphs">EVA40_SH</text>
</svg>
</body></html>
